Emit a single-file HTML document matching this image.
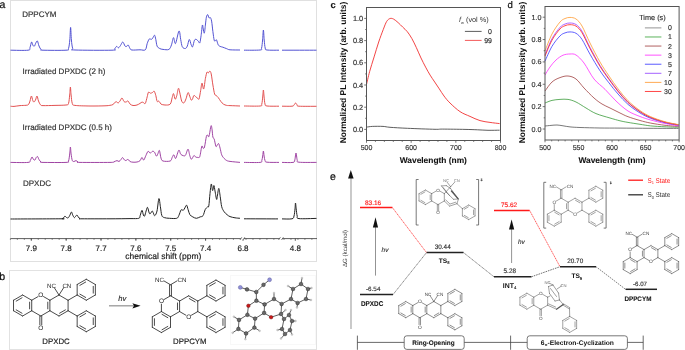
<!DOCTYPE html>
<html><head><meta charset="utf-8"><style>
html,body{margin:0;padding:0;background:#fff;width:685px;height:350px;overflow:hidden;}
svg{display:block;will-change:transform;text-rendering:geometricPrecision;font-family:"Liberation Sans", sans-serif;}
</style></head><body>
<svg width="685" height="350" viewBox="0 0 685 350" font-family='"Liberation Sans", sans-serif'>
<rect width="685" height="350" fill="#fff"/>
<rect x="10.5" y="0.5" width="306" height="261" fill="none" stroke="#e0e0e0" stroke-width="1"/>
<text x="-0.5" y="8.1" font-size="10.5" fill="#111" stroke="#111" stroke-width="0.23" font-weight="normal" text-anchor="start" font-style="normal" >a</text>
<text x="22.2" y="17" font-size="8" fill="#333" stroke="#333" stroke-width="0.18" font-weight="normal" text-anchor="start" font-style="normal" >DPPCYM</text>
<text x="22.6" y="74" font-size="8" fill="#333" stroke="#333" stroke-width="0.18" font-weight="normal" text-anchor="start" font-style="normal" >Irradiated DPXDC (2 h)</text>
<text x="22.6" y="130.4" font-size="8" fill="#333" stroke="#333" stroke-width="0.18" font-weight="normal" text-anchor="start" font-style="normal" >Irradiated DPXDC (0.5 h)</text>
<text x="23" y="186.4" font-size="8" fill="#333" stroke="#333" stroke-width="0.18" font-weight="normal" text-anchor="start" font-style="normal" >DPXDC</text>
<path d="M10.5,50.2 C13.42,50.2 24.75,50.65 28,50.2 C31.25,49.75 29.4,48.87 30,47.5 C30.6,46.13 31.1,42.33 31.6,42 C32.1,41.67 32.52,44.83 33,45.5 C33.48,46.17 34.03,46.42 34.5,46 C34.97,45.58 35.32,43.83 35.8,43 C36.28,42.17 36.87,40.5 37.4,41 C37.93,41.5 38.4,44.58 39,46 C39.6,47.42 40.33,48.8 41,49.5 C41.67,50.2 38.83,50.08 43,50.2 C47.17,50.32 61.75,50.48 66,50.2 C70.25,49.92 67.87,50.2 68.5,48.5 C69.13,46.8 69.45,43.52 69.8,40 C70.15,36.48 70.33,27.4 70.6,27.4 C70.87,27.4 71.05,36.48 71.4,40 C71.75,43.52 72.1,46.83 72.7,48.5 C73.3,50.17 68.45,49.72 75,50 C81.55,50.28 105.42,50.37 112,50.2 C118.58,50.03 113.73,49.63 114.5,49 C115.27,48.37 115.93,46.6 116.6,46.4 C117.27,46.2 117.85,47.95 118.5,47.8 C119.15,47.65 119.78,46.47 120.5,45.5 C121.22,44.53 122.05,41.92 122.8,42 C123.55,42.08 124.38,45.25 125,46 C125.62,46.75 125.97,46.67 126.5,46.5 C127.03,46.33 127.62,44.67 128.2,45 C128.78,45.33 129.37,47.67 130,48.5 C130.63,49.33 130.33,49.78 132,50 C133.67,50.22 137.78,49.83 140,49.8 C142.22,49.77 144.1,50.85 145.3,49.8 C146.5,48.75 146.55,45.28 147.2,43.5 C147.85,41.72 148.53,39.8 149.2,39.1 C149.87,38.4 150.65,39.4 151.2,39.3 C151.75,39.2 151.95,39.18 152.5,38.5 C153.05,37.82 153.95,35.03 154.5,35.2 C155.05,35.37 155.37,37.68 155.8,39.5 C156.23,41.32 156.45,44.6 157.1,46.1 C157.75,47.6 158.72,47.95 159.7,48.5 C160.68,49.05 161.47,49.25 163,49.4 C164.53,49.55 167.48,50.17 168.9,49.4 C170.32,48.63 170.73,46.77 171.5,44.8 C172.27,42.83 172.83,37.82 173.5,37.6 C174.17,37.38 174.58,44.6 175.5,43.5 C176.42,42.4 178.13,31.67 179,31 C179.87,30.33 180.15,36.87 180.7,39.5 C181.25,42.13 181.53,45.3 182.3,46.8 C183.07,48.3 184.47,48.62 185.3,48.5 C186.13,48.38 186.63,47.6 187.3,46.1 C187.97,44.6 188.65,39.72 189.3,39.5 C189.95,39.28 190.65,43.58 191.2,44.8 C191.75,46.02 192.05,47.57 192.6,46.8 C193.15,46.03 193.85,41.42 194.5,40.2 C195.15,38.98 195.83,39.28 196.5,39.5 C197.17,39.72 197.95,40.95 198.5,41.5 C199.05,42.05 199.37,43.78 199.8,42.8 C200.23,41.82 200.67,38.55 201.1,35.6 C201.53,32.65 202.02,26.03 202.4,25.1 C202.78,24.17 203.07,28.68 203.4,30 C203.73,31.32 204.05,34 204.4,33 C204.75,32 205.17,26.63 205.5,24 C205.83,21.37 206.03,18.77 206.4,17.2 C206.77,15.63 207.27,14.48 207.7,14.6 C208.13,14.72 208.57,17.42 209,17.9 C209.43,18.38 209.87,16.97 210.3,17.5 C210.73,18.03 211.17,18.75 211.6,21.1 C212.03,23.45 212.47,28.42 212.9,31.6 C213.33,34.78 213.8,38.67 214.2,40.2 C214.6,41.73 214.92,40.85 215.3,40.8 C215.68,40.75 216.02,39.23 216.5,39.9 C216.98,40.57 217.6,43.72 218.2,44.8 C218.8,45.88 219.33,46 220.1,46.4 C220.87,46.8 221.7,46.82 222.8,47.2 C223.9,47.58 225.5,48.27 226.7,48.7 C227.9,49.13 227.78,49.58 230,49.8 C232.22,50.02 238.33,49.97 240,50" fill="none" stroke="#4a4ad0" stroke-width="0.95" stroke-linejoin="round" />
<path d="M244,50.2 C246.67,50.17 257.07,50.37 260,50 C262.93,49.63 261.17,49.67 261.6,48 C262.03,46.33 262.3,43 262.6,40 C262.9,37 263.13,30 263.4,30 C263.67,30 263.9,37 264.2,40 C264.5,43 264.73,46.33 265.2,48 C265.67,49.67 264.7,49.63 267,50 C269.3,50.37 277,50.17 279,50.2" fill="none" stroke="#4a4ad0" stroke-width="0.95" stroke-linejoin="round" />
<path d="M282,50.2 C287.75,50.2 310.75,50.2 316.5,50.2" fill="none" stroke="#4a4ad0" stroke-width="0.95" stroke-linejoin="round" />
<path d="M10.5,106.2 C11.08,106.23 12.42,106.5 14,106.4 C15.58,106.3 18,105.78 20,105.6 C22,105.42 24.58,105.48 26,105.3 C27.42,105.12 27.83,105.22 28.5,104.5 C29.17,103.78 29.52,102.42 30,101 C30.48,99.58 30.93,96.08 31.4,96 C31.87,95.92 32.37,99.5 32.8,100.5 C33.23,101.5 33.55,102.08 34,102 C34.45,101.92 35,101 35.5,100 C36,99 36.5,95.83 37,96 C37.5,96.17 37.92,99.53 38.5,101 C39.08,102.47 39.75,104.03 40.5,104.8 C41.25,105.57 40.58,105.5 43,105.6 C45.42,105.7 51.17,105.5 55,105.4 C58.83,105.3 63.75,105.32 66,105 C68.25,104.68 67.88,105.17 68.5,103.5 C69.12,101.83 69.38,97.75 69.7,95 C70.02,92.25 70.17,87 70.4,87 C70.63,87 70.78,92.25 71.1,95 C71.42,97.75 71.65,101.77 72.3,103.5 C72.95,105.23 72.05,104.98 75,105.4 C77.95,105.82 85,105.93 90,106 C95,106.07 101.67,105.92 105,105.8 C108.33,105.68 108.67,105.52 110,105.3 C111.33,105.08 112,105.12 113,104.5 C114,103.88 115.17,101.85 116,101.6 C116.83,101.35 117.33,103.1 118,103 C118.67,102.9 119.33,101.83 120,101 C120.67,100.17 121.33,97.92 122,98 C122.67,98.08 123.33,100.83 124,101.5 C124.67,102.17 125.33,102.08 126,102 C126.67,101.92 127.33,100.67 128,101 C128.67,101.33 129.17,103.25 130,104 C130.83,104.75 131.83,105.33 133,105.5 C134.17,105.67 135.83,105.35 137,105 C138.17,104.65 139.17,103.88 140,103.4 C140.83,102.92 141.42,102.23 142,102.1 C142.58,101.97 142.95,102.38 143.5,102.6 C144.05,102.82 144.68,104.37 145.3,103.4 C145.92,102.43 146.67,98.67 147.2,96.8 C147.73,94.93 147.95,92.8 148.5,92.2 C149.05,91.6 149.83,93.15 150.5,93.2 C151.17,93.25 151.88,92.83 152.5,92.5 C153.12,92.17 153.65,90.7 154.2,91.2 C154.75,91.7 155.32,93.8 155.8,95.5 C156.28,97.2 156.67,100.48 157.1,101.4 C157.53,102.32 157.97,100.88 158.4,101 C158.83,101.12 159.27,101.58 159.7,102.1 C160.13,102.62 160.12,103.62 161,104.1 C161.88,104.58 163.47,105 165,105 C166.53,105 169,105.35 170.2,104.1 C171.4,102.85 171.65,99.25 172.2,97.5 C172.75,95.75 173,93.32 173.5,93.6 C174,93.88 174.65,98.88 175.2,99.2 C175.75,99.52 176.25,97.32 176.8,95.5 C177.35,93.68 177.95,88.52 178.5,88.3 C179.05,88.08 179.55,92.02 180.1,94.2 C180.65,96.38 181.15,99.97 181.8,101.4 C182.45,102.83 183.3,103.23 184,102.8 C184.7,102.37 185.33,100.5 186,98.8 C186.67,97.1 187.38,93.03 188,92.6 C188.62,92.17 189.17,94.95 189.7,96.2 C190.23,97.45 190.73,99.63 191.2,100.1 C191.67,100.57 192.05,99.77 192.5,99 C192.95,98.23 193.35,95.87 193.9,95.5 C194.45,95.13 195.15,96.32 195.8,96.8 C196.45,97.28 197.25,98.07 197.8,98.4 C198.35,98.73 198.62,100.15 199.1,98.8 C199.58,97.45 200.22,92.92 200.7,90.3 C201.18,87.68 201.5,83.32 202,83.1 C202.5,82.88 203.13,89.77 203.7,89 C204.27,88.23 204.85,81.32 205.4,78.5 C205.95,75.68 206.52,73.03 207,72.1 C207.48,71.17 207.82,73.05 208.3,72.9 C208.78,72.75 209.42,71.03 209.9,71.2 C210.38,71.37 210.7,71.6 211.2,73.9 C211.7,76.2 212.33,81.65 212.9,85 C213.47,88.35 214.05,92.25 214.6,94 C215.15,95.75 215.6,94.92 216.2,95.5 C216.8,96.08 217.43,96.52 218.2,97.5 C218.97,98.48 219.93,100.3 220.8,101.4 C221.67,102.5 222.42,103.43 223.4,104.1 C224.38,104.77 225.6,105.15 226.7,105.4 C227.8,105.65 227.78,105.5 230,105.6 C232.22,105.7 238.33,105.93 240,106" fill="none" stroke="#e04848" stroke-width="0.95" stroke-linejoin="round" />
<path d="M244,106 C246.67,106 257.03,106.33 260,106 C262.97,105.67 261.35,105.5 261.8,104 C262.25,102.5 262.43,99.33 262.7,97 C262.97,94.67 263.17,90 263.4,90 C263.63,90 263.83,94.67 264.1,97 C264.37,99.33 264.52,102.5 265,104 C265.48,105.5 264.67,105.63 267,106 C269.33,106.37 277,106.17 279,106.2" fill="none" stroke="#e04848" stroke-width="0.95" stroke-linejoin="round" />
<path d="M282,106.2 C283.67,106.2 290,106.4 292,106.2 C294,106 293.4,105.53 294,105 C294.6,104.47 295.07,103 295.6,103 C296.13,103 296.63,104.47 297.2,105 C297.77,105.53 295.78,105.98 299,106.2 C302.22,106.42 313.58,106.28 316.5,106.3" fill="none" stroke="#e04848" stroke-width="0.95" stroke-linejoin="round" />
<path d="M10.5,162.4 C13.42,162.4 24.67,162.8 28,162.4 C31.33,162 29.83,160.9 30.5,160 C31.17,159.1 31.5,157.08 32,157 C32.5,156.92 33,159 33.5,159.5 C34,160 34.55,160.33 35,160 C35.45,159.67 35.77,158.07 36.2,157.5 C36.63,156.93 37.13,156.27 37.6,156.6 C38.07,156.93 38.43,158.6 39,159.5 C39.57,160.4 40.33,161.52 41,162 C41.67,162.48 38.83,162.33 43,162.4 C47.17,162.47 61.75,162.63 66,162.4 C70.25,162.17 67.88,162.4 68.5,161 C69.12,159.6 69.38,156.33 69.7,154 C70.02,151.67 70.17,147 70.4,147 C70.63,147 70.78,151.75 71.1,154 C71.42,156.25 71.82,159.25 72.3,160.5 C72.78,161.75 73.38,161.48 74,161.5 C74.62,161.52 75.33,160.52 76,160.6 C76.67,160.68 77.33,161.7 78,162 C78.67,162.3 74.67,162.33 80,162.4 C85.33,162.47 104.33,162.5 110,162.4 C115.67,162.3 112.83,162.1 114,161.8 C115.17,161.5 116.17,160.65 117,160.6 C117.83,160.55 118.33,161.68 119,161.5 C119.67,161.32 120.4,160.15 121,159.5 C121.6,158.85 122.02,157.52 122.6,157.6 C123.18,157.68 123.93,159.52 124.5,160 C125.07,160.48 125.42,160.6 126,160.5 C126.58,160.4 127.33,159.23 128,159.4 C128.67,159.57 129.17,161.03 130,161.5 C130.83,161.97 131.83,162.12 133,162.2 C134.17,162.28 135.83,162.25 137,162 C138.17,161.75 139.17,161.47 140,160.7 C140.83,159.93 141.38,157.5 142,157.4 C142.62,157.3 143.05,160.42 143.7,160.1 C144.35,159.78 145.17,156.97 145.9,155.5 C146.63,154.03 147.38,151.7 148.1,151.3 C148.82,150.9 149.47,153.1 150.2,153.1 C150.93,153.1 151.78,151.45 152.5,151.3 C153.22,151.15 153.85,151.4 154.5,152.2 C155.15,153 155.85,155.8 156.4,156.1 C156.95,156.4 157.3,154.93 157.8,154 C158.3,153.07 158.87,149.82 159.4,150.5 C159.93,151.18 160.4,156.35 161,158.1 C161.6,159.85 161.47,160.52 163,161 C164.53,161.48 168.67,161.6 170.2,161 C171.73,160.4 171.58,158.43 172.2,157.4 C172.82,156.37 173.32,154.63 173.9,154.8 C174.48,154.97 174.88,159.17 175.7,158.4 C176.52,157.63 177.97,150.9 178.8,150.2 C179.63,149.5 179.93,153.28 180.7,154.2 C181.47,155.12 182.6,155.53 183.4,155.7 C184.2,155.87 184.73,156.28 185.5,155.2 C186.27,154.12 187.3,149.2 188,149.2 C188.7,149.2 189.17,153.53 189.7,155.2 C190.23,156.87 190.7,158.82 191.2,159.2 C191.7,159.58 192.22,158.12 192.7,157.5 C193.18,156.88 193.58,155.57 194.1,155.5 C194.62,155.43 195.18,156.78 195.8,157.1 C196.42,157.42 197.13,157.5 197.8,157.4 C198.47,157.3 199.13,158.35 199.8,156.5 C200.47,154.65 201.25,147.68 201.8,146.3 C202.35,144.92 202.65,148.08 203.1,148.2 C203.55,148.32 203.95,148.97 204.5,147 C205.05,145.03 205.87,138.38 206.4,136.4 C206.93,134.42 207.27,135.1 207.7,135.1 C208.13,135.1 208.45,137.93 209,136.4 C209.55,134.87 210.5,127.1 211,125.9 C211.5,124.7 211.68,127.33 212,129.2 C212.32,131.07 212.53,135.45 212.9,137.1 C213.27,138.75 213.7,137.57 214.2,139.1 C214.7,140.63 215.43,145.23 215.9,146.3 C216.37,147.37 216.55,145.95 217,145.5 C217.45,145.05 218.08,143.15 218.6,143.6 C219.12,144.05 219.58,146.33 220.1,148.2 C220.62,150.07 221.03,153.1 221.7,154.8 C222.37,156.5 223.27,157.45 224.1,158.4 C224.93,159.35 225.72,160 226.7,160.5 C227.68,161 227.78,161.08 230,161.4 C232.22,161.72 238.33,162.23 240,162.4" fill="none" stroke="#9a3a9e" stroke-width="0.95" stroke-linejoin="round" />
<path d="M244,162.4 C246.67,162.4 257.03,162.72 260,162.4 C262.97,162.08 261.35,161.57 261.8,160.5 C262.25,159.43 262.43,157.58 262.7,156 C262.97,154.42 263.17,151 263.4,151 C263.63,151 263.83,154.42 264.1,156 C264.37,157.58 264.52,159.47 265,160.5 C265.48,161.53 264.67,161.88 267,162.2 C269.33,162.52 277,162.37 279,162.4" fill="none" stroke="#9a3a9e" stroke-width="0.95" stroke-linejoin="round" />
<path d="M282,162.4 C283.83,162.4 290.87,162.8 293,162.4 C295.13,162 294.3,161.57 294.8,160 C295.3,158.43 295.6,153 296,153 C296.4,153 296.7,158.47 297.2,160 C297.7,161.53 295.78,161.8 299,162.2 C302.22,162.6 313.58,162.37 316.5,162.4" fill="none" stroke="#9a3a9e" stroke-width="0.95" stroke-linejoin="round" />
<path d="M10.5,219 C18.75,218.97 51.42,218.85 60,218.8 C68.58,218.75 61.37,218.9 62,218.7 C62.63,218.5 63.3,218.05 63.8,217.6 C64.3,217.15 64.58,216.03 65,216 C65.42,215.97 65.77,217.1 66.3,217.4 C66.83,217.7 67.58,218.2 68.2,217.8 C68.82,217.4 69.47,215.97 70,215 C70.53,214.03 70.93,211.97 71.4,212 C71.87,212.03 72.32,214.27 72.8,215.2 C73.28,216.13 73.8,217.43 74.3,217.6 C74.8,217.77 75.35,216.63 75.8,216.2 C76.25,215.77 76.58,214.87 77,215 C77.42,215.13 77.8,216.38 78.3,217 C78.8,217.62 79.38,218.4 80,218.7 C80.62,219 77,218.78 82,218.8 C87,218.82 102,218.83 110,218.8 C118,218.77 125.2,218.68 130,218.6 C134.8,218.52 137.1,218.83 138.8,218.3 C140.5,217.77 139.67,216.73 140.2,215.4 C140.73,214.07 141.47,210.35 142,210.3 C142.53,210.25 142.97,214.13 143.4,215.1 C143.83,216.07 144.15,216.78 144.6,216.1 C145.05,215.42 145.62,212.45 146.1,211 C146.58,209.55 146.97,207.03 147.5,207.4 C148.03,207.77 148.8,212.18 149.3,213.2 C149.8,214.22 150.02,213.87 150.5,213.5 C150.98,213.13 151.72,211.05 152.2,211 C152.68,210.95 152.97,212.42 153.4,213.2 C153.83,213.98 154.2,216.07 154.8,215.7 C155.4,215.33 156.32,213.85 157,211 C157.68,208.15 158.33,199.32 158.9,198.6 C159.47,197.88 159.92,203.9 160.4,206.7 C160.88,209.5 161.15,213.58 161.8,215.4 C162.45,217.22 163.03,217.12 164.3,217.6 C165.57,218.08 167.33,218.18 169.4,218.3 C171.47,218.42 175.12,218.78 176.7,218.3 C178.28,217.82 178.17,216.8 178.9,215.4 C179.63,214 180.37,210.75 181.1,209.9 C181.83,209.05 182.68,210.62 183.3,210.3 C183.92,209.98 184.25,208.85 184.8,208 C185.35,207.15 186.05,204.93 186.6,205.2 C187.15,205.47 187.55,208.02 188.1,209.6 C188.65,211.18 189.12,213.48 189.9,214.7 C190.68,215.92 191.72,216.3 192.8,216.9 C193.88,217.5 195.18,218.3 196.4,218.3 C197.62,218.3 199,217.33 200.1,216.9 C201.2,216.47 202.15,216.92 203,215.7 C203.85,214.48 204.47,211.05 205.2,209.6 C205.93,208.15 206.8,207.62 207.4,207 C208,206.38 208.37,208.15 208.8,205.9 C209.23,203.65 209.58,197.15 210,193.5 C210.42,189.85 210.87,184.48 211.3,184 C211.73,183.52 212.17,190.35 212.6,190.6 C213.03,190.85 213.5,185.43 213.9,185.5 C214.3,185.57 214.55,188.68 215,191 C215.45,193.32 216.18,198.73 216.6,199.4 C217.02,200.07 217.13,196.83 217.5,195 C217.87,193.17 218.35,188.17 218.8,188.4 C219.25,188.63 219.72,193.35 220.2,196.4 C220.68,199.45 221.03,204.13 221.7,206.7 C222.37,209.27 223.3,210.47 224.2,211.8 C225.1,213.13 226.13,213.9 227.1,214.7 C228.07,215.5 228.68,216.08 230,216.6 C231.32,217.12 233.33,217.52 235,217.8 C236.67,218.08 239.17,218.22 240,218.3" fill="none" stroke="#222" stroke-width="1.0" stroke-linejoin="round" />
<path d="M244,218.8 C249.67,218.82 272.33,218.88 278,218.9" fill="none" stroke="#222" stroke-width="1.0" stroke-linejoin="round" />
<path d="M282,218.9 C283.67,218.88 290,219.28 292,218.8 C294,218.32 293.5,217.63 294,216 C294.5,214.37 294.75,211.17 295,209 C295.25,206.83 295.3,203 295.5,203 C295.7,203 295.92,206.83 296.2,209 C296.48,211.17 296.73,214.4 297.2,216 C297.67,217.6 295.78,218.2 299,218.6 C302.22,219 313.58,218.43 316.5,218.4" fill="none" stroke="#222" stroke-width="1.0" stroke-linejoin="round" />
<line x1="10.5" y1="238.6" x2="317" y2="238.6" stroke="#333" stroke-width="0.8" />
<line x1="31.3" y1="238.6" x2="31.3" y2="240.8" stroke="#333" stroke-width="0.8" />
<text x="31.3" y="251" font-size="8" fill="#222" stroke="#222" stroke-width="0.18" font-weight="normal" text-anchor="middle" font-style="normal" >7.9</text>
<line x1="66.16" y1="238.6" x2="66.16" y2="240.8" stroke="#333" stroke-width="0.8" />
<text x="66.16" y="251" font-size="8" fill="#222" stroke="#222" stroke-width="0.18" font-weight="normal" text-anchor="middle" font-style="normal" >7.8</text>
<line x1="101.02" y1="238.6" x2="101.02" y2="240.8" stroke="#333" stroke-width="0.8" />
<text x="101.02" y="251" font-size="8" fill="#222" stroke="#222" stroke-width="0.18" font-weight="normal" text-anchor="middle" font-style="normal" >7.7</text>
<line x1="135.88" y1="238.6" x2="135.88" y2="240.8" stroke="#333" stroke-width="0.8" />
<text x="135.88" y="251" font-size="8" fill="#222" stroke="#222" stroke-width="0.18" font-weight="normal" text-anchor="middle" font-style="normal" >7.6</text>
<line x1="170.74" y1="238.6" x2="170.74" y2="240.8" stroke="#333" stroke-width="0.8" />
<text x="170.74" y="251" font-size="8" fill="#222" stroke="#222" stroke-width="0.18" font-weight="normal" text-anchor="middle" font-style="normal" >7.5</text>
<line x1="205.6" y1="238.6" x2="205.6" y2="240.8" stroke="#333" stroke-width="0.8" />
<text x="205.6" y="251" font-size="8" fill="#222" stroke="#222" stroke-width="0.18" font-weight="normal" text-anchor="middle" font-style="normal" >7.4</text>
<line x1="10.38" y1="238.6" x2="10.38" y2="239.8" stroke="#444" stroke-width="0.7" />
<line x1="17.35" y1="238.6" x2="17.35" y2="239.8" stroke="#444" stroke-width="0.7" />
<line x1="24.32" y1="238.6" x2="24.32" y2="239.8" stroke="#444" stroke-width="0.7" />
<line x1="31.29" y1="238.6" x2="31.29" y2="239.8" stroke="#444" stroke-width="0.7" />
<line x1="38.26" y1="238.6" x2="38.26" y2="239.8" stroke="#444" stroke-width="0.7" />
<line x1="45.23" y1="238.6" x2="45.23" y2="239.8" stroke="#444" stroke-width="0.7" />
<line x1="52.2" y1="238.6" x2="52.2" y2="239.8" stroke="#444" stroke-width="0.7" />
<line x1="59.17" y1="238.6" x2="59.17" y2="239.8" stroke="#444" stroke-width="0.7" />
<line x1="66.14" y1="238.6" x2="66.14" y2="239.8" stroke="#444" stroke-width="0.7" />
<line x1="73.11" y1="238.6" x2="73.11" y2="239.8" stroke="#444" stroke-width="0.7" />
<line x1="80.08" y1="238.6" x2="80.08" y2="239.8" stroke="#444" stroke-width="0.7" />
<line x1="87.05" y1="238.6" x2="87.05" y2="239.8" stroke="#444" stroke-width="0.7" />
<line x1="94.02" y1="238.6" x2="94.02" y2="239.8" stroke="#444" stroke-width="0.7" />
<line x1="100.99" y1="238.6" x2="100.99" y2="239.8" stroke="#444" stroke-width="0.7" />
<line x1="107.96" y1="238.6" x2="107.96" y2="239.8" stroke="#444" stroke-width="0.7" />
<line x1="114.93" y1="238.6" x2="114.93" y2="239.8" stroke="#444" stroke-width="0.7" />
<line x1="121.9" y1="238.6" x2="121.9" y2="239.8" stroke="#444" stroke-width="0.7" />
<line x1="128.87" y1="238.6" x2="128.87" y2="239.8" stroke="#444" stroke-width="0.7" />
<line x1="135.84" y1="238.6" x2="135.84" y2="239.8" stroke="#444" stroke-width="0.7" />
<line x1="142.81" y1="238.6" x2="142.81" y2="239.8" stroke="#444" stroke-width="0.7" />
<line x1="149.78" y1="238.6" x2="149.78" y2="239.8" stroke="#444" stroke-width="0.7" />
<line x1="156.75" y1="238.6" x2="156.75" y2="239.8" stroke="#444" stroke-width="0.7" />
<line x1="163.72" y1="238.6" x2="163.72" y2="239.8" stroke="#444" stroke-width="0.7" />
<line x1="170.69" y1="238.6" x2="170.69" y2="239.8" stroke="#444" stroke-width="0.7" />
<line x1="177.66" y1="238.6" x2="177.66" y2="239.8" stroke="#444" stroke-width="0.7" />
<line x1="184.63" y1="238.6" x2="184.63" y2="239.8" stroke="#444" stroke-width="0.7" />
<line x1="191.6" y1="238.6" x2="191.6" y2="239.8" stroke="#444" stroke-width="0.7" />
<line x1="198.57" y1="238.6" x2="198.57" y2="239.8" stroke="#444" stroke-width="0.7" />
<line x1="205.54" y1="238.6" x2="205.54" y2="239.8" stroke="#444" stroke-width="0.7" />
<line x1="212.51" y1="238.6" x2="212.51" y2="239.8" stroke="#444" stroke-width="0.7" />
<line x1="219.48" y1="238.6" x2="219.48" y2="239.8" stroke="#444" stroke-width="0.7" />
<line x1="226.45" y1="238.6" x2="226.45" y2="239.8" stroke="#444" stroke-width="0.7" />
<line x1="233.42" y1="238.6" x2="233.42" y2="239.8" stroke="#444" stroke-width="0.7" />
<line x1="246" y1="238.6" x2="246" y2="239.8" stroke="#444" stroke-width="0.7" />
<line x1="252.97" y1="238.6" x2="252.97" y2="239.8" stroke="#444" stroke-width="0.7" />
<line x1="259.94" y1="238.6" x2="259.94" y2="239.8" stroke="#444" stroke-width="0.7" />
<line x1="266.91" y1="238.6" x2="266.91" y2="239.8" stroke="#444" stroke-width="0.7" />
<line x1="273.88" y1="238.6" x2="273.88" y2="239.8" stroke="#444" stroke-width="0.7" />
<line x1="284" y1="238.6" x2="284" y2="239.8" stroke="#444" stroke-width="0.7" />
<line x1="290.97" y1="238.6" x2="290.97" y2="239.8" stroke="#444" stroke-width="0.7" />
<line x1="297.94" y1="238.6" x2="297.94" y2="239.8" stroke="#444" stroke-width="0.7" />
<line x1="304.91" y1="238.6" x2="304.91" y2="239.8" stroke="#444" stroke-width="0.7" />
<line x1="311.88" y1="238.6" x2="311.88" y2="239.8" stroke="#444" stroke-width="0.7" />
<line x1="243" y1="238.6" x2="243" y2="240.8" stroke="#333" stroke-width="0.8" />
<text x="243" y="251" font-size="8" fill="#222" stroke="#222" stroke-width="0.18" font-weight="normal" text-anchor="middle" font-style="normal" >6.8</text>
<line x1="295.3" y1="238.6" x2="295.3" y2="240.8" stroke="#333" stroke-width="0.8" />
<text x="295.3" y="251" font-size="8" fill="#222" stroke="#222" stroke-width="0.18" font-weight="normal" text-anchor="middle" font-style="normal" >4.8</text>
<rect x="240.8" y="237.6" width="3.2" height="2" fill="#fff"/>
<line x1="240" y1="239.9" x2="241.8" y2="237.3" stroke="#333" stroke-width="0.7" />
<line x1="243" y1="239.9" x2="244.8" y2="237.3" stroke="#333" stroke-width="0.7" />
<rect x="279.4" y="237.6" width="3.2" height="2" fill="#fff"/>
<line x1="278.6" y1="239.9" x2="280.4" y2="237.3" stroke="#333" stroke-width="0.7" />
<line x1="281.6" y1="239.9" x2="283.4" y2="237.3" stroke="#333" stroke-width="0.7" />
<text x="163.3" y="258.6" font-size="8.5" fill="#222" stroke="#222" stroke-width="0.19" font-weight="normal" text-anchor="middle" font-style="normal" >chemical shift (ppm)</text>
<rect x="9.5" y="270.5" width="307" height="79" fill="none" stroke="#e2e2e2" stroke-width="1"/>
<text x="-0.8" y="279.6" font-size="10.5" fill="#111" stroke="#111" stroke-width="0.23" font-weight="normal" text-anchor="start" font-style="normal" >b</text>
<line x1="22.61" y1="295" x2="31.71" y2="300.25" stroke="#2a2a2a" stroke-width="0.85" stroke-linecap="round"/>
<line x1="31.71" y1="300.25" x2="31.71" y2="310.75" stroke="#2a2a2a" stroke-width="0.85" stroke-linecap="round"/>
<line x1="31.71" y1="310.75" x2="22.61" y2="316" stroke="#2a2a2a" stroke-width="0.85" stroke-linecap="round"/>
<line x1="22.61" y1="316" x2="13.52" y2="310.75" stroke="#2a2a2a" stroke-width="0.85" stroke-linecap="round"/>
<line x1="13.52" y1="310.75" x2="13.52" y2="300.25" stroke="#2a2a2a" stroke-width="0.85" stroke-linecap="round"/>
<line x1="13.52" y1="300.25" x2="22.61" y2="295" stroke="#2a2a2a" stroke-width="0.85" stroke-linecap="round"/>
<line x1="16.21" y1="301.12" x2="22.03" y2="297.76" stroke="#2a2a2a" stroke-width="0.85" stroke-linecap="round"/>
<line x1="29.61" y1="302.14" x2="29.61" y2="308.86" stroke="#2a2a2a" stroke-width="0.85" stroke-linecap="round"/>
<line x1="22.03" y1="313.24" x2="16.21" y2="309.88" stroke="#2a2a2a" stroke-width="0.85" stroke-linecap="round"/>
<line x1="40.8" y1="295" x2="49.89" y2="300.25" stroke="#2a2a2a" stroke-width="0.85" stroke-linecap="round"/>
<line x1="49.89" y1="300.25" x2="49.89" y2="310.75" stroke="#2a2a2a" stroke-width="0.85" stroke-linecap="round"/>
<line x1="49.89" y1="310.75" x2="40.8" y2="316" stroke="#2a2a2a" stroke-width="0.85" stroke-linecap="round"/>
<line x1="40.8" y1="316" x2="31.71" y2="310.75" stroke="#2a2a2a" stroke-width="0.85" stroke-linecap="round"/>
<line x1="31.71" y1="300.25" x2="40.8" y2="295" stroke="#2a2a2a" stroke-width="0.85" stroke-linecap="round"/>
<line x1="47.79" y1="302.14" x2="47.79" y2="308.86" stroke="#2a2a2a" stroke-width="0.85" stroke-linecap="round"/>
<line x1="58.99" y1="295" x2="68.08" y2="300.25" stroke="#2a2a2a" stroke-width="0.85" stroke-linecap="round"/>
<line x1="68.08" y1="300.25" x2="68.08" y2="310.75" stroke="#2a2a2a" stroke-width="0.85" stroke-linecap="round"/>
<line x1="68.08" y1="310.75" x2="58.99" y2="316" stroke="#2a2a2a" stroke-width="0.85" stroke-linecap="round"/>
<line x1="58.99" y1="316" x2="49.89" y2="310.75" stroke="#2a2a2a" stroke-width="0.85" stroke-linecap="round"/>
<line x1="49.89" y1="300.25" x2="58.99" y2="295" stroke="#2a2a2a" stroke-width="0.85" stroke-linecap="round"/>
<line x1="65.39" y1="309.88" x2="59.57" y2="313.24" stroke="#2a2a2a" stroke-width="0.85" stroke-linecap="round"/>
<line x1="39.85" y1="316" x2="39.85" y2="324.93" stroke="#2a2a2a" stroke-width="0.85" stroke-linecap="round"/>
<line x1="41.74" y1="316" x2="41.74" y2="324.93" stroke="#2a2a2a" stroke-width="0.85" stroke-linecap="round"/>
<line x1="86.27" y1="279.25" x2="95.36" y2="284.5" stroke="#2a2a2a" stroke-width="0.85" stroke-linecap="round"/>
<line x1="95.36" y1="284.5" x2="95.36" y2="295" stroke="#2a2a2a" stroke-width="0.85" stroke-linecap="round"/>
<line x1="95.36" y1="295" x2="86.27" y2="300.25" stroke="#2a2a2a" stroke-width="0.85" stroke-linecap="round"/>
<line x1="86.27" y1="300.25" x2="77.17" y2="295" stroke="#2a2a2a" stroke-width="0.85" stroke-linecap="round"/>
<line x1="77.17" y1="295" x2="77.17" y2="284.5" stroke="#2a2a2a" stroke-width="0.85" stroke-linecap="round"/>
<line x1="77.17" y1="284.5" x2="86.27" y2="279.25" stroke="#2a2a2a" stroke-width="0.85" stroke-linecap="round"/>
<line x1="79.86" y1="285.37" x2="85.68" y2="282.01" stroke="#2a2a2a" stroke-width="0.85" stroke-linecap="round"/>
<line x1="93.26" y1="286.39" x2="93.26" y2="293.11" stroke="#2a2a2a" stroke-width="0.85" stroke-linecap="round"/>
<line x1="85.68" y1="297.49" x2="79.86" y2="294.13" stroke="#2a2a2a" stroke-width="0.85" stroke-linecap="round"/>
<line x1="86.27" y1="310.75" x2="95.36" y2="316" stroke="#2a2a2a" stroke-width="0.85" stroke-linecap="round"/>
<line x1="95.36" y1="316" x2="95.36" y2="326.5" stroke="#2a2a2a" stroke-width="0.85" stroke-linecap="round"/>
<line x1="95.36" y1="326.5" x2="86.27" y2="331.75" stroke="#2a2a2a" stroke-width="0.85" stroke-linecap="round"/>
<line x1="86.27" y1="331.75" x2="77.17" y2="326.5" stroke="#2a2a2a" stroke-width="0.85" stroke-linecap="round"/>
<line x1="77.17" y1="326.5" x2="77.17" y2="316" stroke="#2a2a2a" stroke-width="0.85" stroke-linecap="round"/>
<line x1="77.17" y1="316" x2="86.27" y2="310.75" stroke="#2a2a2a" stroke-width="0.85" stroke-linecap="round"/>
<line x1="79.86" y1="316.87" x2="85.68" y2="313.51" stroke="#2a2a2a" stroke-width="0.85" stroke-linecap="round"/>
<line x1="93.26" y1="317.89" x2="93.26" y2="324.61" stroke="#2a2a2a" stroke-width="0.85" stroke-linecap="round"/>
<line x1="85.68" y1="328.99" x2="79.86" y2="325.63" stroke="#2a2a2a" stroke-width="0.85" stroke-linecap="round"/>
<line x1="68.08" y1="300.25" x2="77.17" y2="295" stroke="#2a2a2a" stroke-width="0.85" stroke-linecap="round"/>
<line x1="68.08" y1="310.75" x2="77.17" y2="316" stroke="#2a2a2a" stroke-width="0.85" stroke-linecap="round"/>
<line x1="58.99" y1="295" x2="54.26" y2="287.65" stroke="#2a2a2a" stroke-width="0.85" stroke-linecap="round"/>
<line x1="58.99" y1="295" x2="63.71" y2="287.65" stroke="#2a2a2a" stroke-width="0.85" stroke-linecap="round"/>
<circle cx="40.8" cy="328.07" r="2.73" fill="#fff"/>
<text x="40.8" y="330.42" font-size="6.51" fill="#2a2a2a" text-anchor="middle">O</text>
<circle cx="40.8" cy="295" r="2.73" fill="#fff"/>
<text x="40.8" y="297.34" font-size="6.51" fill="#2a2a2a" text-anchor="middle">O</text>
<text x="51.43" y="288.49" font-size="6.2" fill="#2a2a2a" text-anchor="middle">NC</text>
<text x="66.86" y="288.49" font-size="6.2" fill="#2a2a2a" text-anchor="middle">CN</text>
<text x="56" y="343.8" font-size="7.8" fill="#222" stroke="#222" stroke-width="0.17" font-weight="normal" text-anchor="middle" font-style="normal" >DPXDC</text>
<line x1="109" y1="305.8" x2="134" y2="305.8" stroke="#999" stroke-width="1.3" />
<path d="M132.4,303.2 L140.6,305.8 L132.4,308.6 L134,305.8 Z" fill="#111"/>
<text x="118.2" y="300.7" font-size="7.6" fill="#333" stroke="#333" stroke-width="0.17" font-weight="normal" text-anchor="start" font-style="italic" >hv</text>
<line x1="161.41" y1="311.55" x2="170.5" y2="316.8" stroke="#2a2a2a" stroke-width="0.85" stroke-linecap="round"/>
<line x1="170.5" y1="316.8" x2="170.5" y2="327.3" stroke="#2a2a2a" stroke-width="0.85" stroke-linecap="round"/>
<line x1="170.5" y1="327.3" x2="161.41" y2="332.55" stroke="#2a2a2a" stroke-width="0.85" stroke-linecap="round"/>
<line x1="161.41" y1="332.55" x2="152.31" y2="327.3" stroke="#2a2a2a" stroke-width="0.85" stroke-linecap="round"/>
<line x1="152.31" y1="327.3" x2="152.31" y2="316.8" stroke="#2a2a2a" stroke-width="0.85" stroke-linecap="round"/>
<line x1="152.31" y1="316.8" x2="161.41" y2="311.55" stroke="#2a2a2a" stroke-width="0.85" stroke-linecap="round"/>
<line x1="161.99" y1="314.31" x2="167.81" y2="317.67" stroke="#2a2a2a" stroke-width="0.85" stroke-linecap="round"/>
<line x1="167.81" y1="326.43" x2="161.99" y2="329.79" stroke="#2a2a2a" stroke-width="0.85" stroke-linecap="round"/>
<line x1="154.41" y1="325.41" x2="154.41" y2="318.69" stroke="#2a2a2a" stroke-width="0.85" stroke-linecap="round"/>
<line x1="170.5" y1="295.8" x2="179.59" y2="301.05" stroke="#2a2a2a" stroke-width="0.85" stroke-linecap="round"/>
<line x1="179.59" y1="301.05" x2="179.59" y2="311.55" stroke="#2a2a2a" stroke-width="0.85" stroke-linecap="round"/>
<line x1="179.59" y1="311.55" x2="170.5" y2="316.8" stroke="#2a2a2a" stroke-width="0.85" stroke-linecap="round"/>
<line x1="161.41" y1="311.55" x2="161.41" y2="301.05" stroke="#2a2a2a" stroke-width="0.85" stroke-linecap="round"/>
<line x1="161.41" y1="301.05" x2="170.5" y2="295.8" stroke="#2a2a2a" stroke-width="0.85" stroke-linecap="round"/>
<line x1="177.49" y1="302.94" x2="177.49" y2="309.66" stroke="#2a2a2a" stroke-width="0.85" stroke-linecap="round"/>
<line x1="188.69" y1="295.8" x2="197.78" y2="301.05" stroke="#2a2a2a" stroke-width="0.85" stroke-linecap="round"/>
<line x1="197.78" y1="301.05" x2="197.78" y2="311.55" stroke="#2a2a2a" stroke-width="0.85" stroke-linecap="round"/>
<line x1="197.78" y1="311.55" x2="188.69" y2="316.8" stroke="#2a2a2a" stroke-width="0.85" stroke-linecap="round"/>
<line x1="188.69" y1="316.8" x2="179.59" y2="311.55" stroke="#2a2a2a" stroke-width="0.85" stroke-linecap="round"/>
<line x1="179.59" y1="301.05" x2="188.69" y2="295.8" stroke="#2a2a2a" stroke-width="0.85" stroke-linecap="round"/>
<line x1="189.27" y1="298.56" x2="195.09" y2="301.92" stroke="#2a2a2a" stroke-width="0.85" stroke-linecap="round"/>
<line x1="171.44" y1="295.8" x2="171.44" y2="284.78" stroke="#2a2a2a" stroke-width="0.85" stroke-linecap="round"/>
<line x1="169.56" y1="295.8" x2="169.56" y2="284.78" stroke="#2a2a2a" stroke-width="0.85" stroke-linecap="round"/>
<line x1="215.97" y1="280.05" x2="225.06" y2="285.3" stroke="#2a2a2a" stroke-width="0.85" stroke-linecap="round"/>
<line x1="225.06" y1="285.3" x2="225.06" y2="295.8" stroke="#2a2a2a" stroke-width="0.85" stroke-linecap="round"/>
<line x1="225.06" y1="295.8" x2="215.97" y2="301.05" stroke="#2a2a2a" stroke-width="0.85" stroke-linecap="round"/>
<line x1="215.97" y1="301.05" x2="206.87" y2="295.8" stroke="#2a2a2a" stroke-width="0.85" stroke-linecap="round"/>
<line x1="206.87" y1="295.8" x2="206.87" y2="285.3" stroke="#2a2a2a" stroke-width="0.85" stroke-linecap="round"/>
<line x1="206.87" y1="285.3" x2="215.97" y2="280.05" stroke="#2a2a2a" stroke-width="0.85" stroke-linecap="round"/>
<line x1="209.56" y1="286.17" x2="215.38" y2="282.81" stroke="#2a2a2a" stroke-width="0.85" stroke-linecap="round"/>
<line x1="222.96" y1="287.19" x2="222.96" y2="293.91" stroke="#2a2a2a" stroke-width="0.85" stroke-linecap="round"/>
<line x1="215.38" y1="298.29" x2="209.56" y2="294.93" stroke="#2a2a2a" stroke-width="0.85" stroke-linecap="round"/>
<line x1="215.97" y1="311.55" x2="225.06" y2="316.8" stroke="#2a2a2a" stroke-width="0.85" stroke-linecap="round"/>
<line x1="225.06" y1="316.8" x2="225.06" y2="327.3" stroke="#2a2a2a" stroke-width="0.85" stroke-linecap="round"/>
<line x1="225.06" y1="327.3" x2="215.97" y2="332.55" stroke="#2a2a2a" stroke-width="0.85" stroke-linecap="round"/>
<line x1="215.97" y1="332.55" x2="206.87" y2="327.3" stroke="#2a2a2a" stroke-width="0.85" stroke-linecap="round"/>
<line x1="206.87" y1="327.3" x2="206.87" y2="316.8" stroke="#2a2a2a" stroke-width="0.85" stroke-linecap="round"/>
<line x1="206.87" y1="316.8" x2="215.97" y2="311.55" stroke="#2a2a2a" stroke-width="0.85" stroke-linecap="round"/>
<line x1="209.56" y1="317.67" x2="215.38" y2="314.31" stroke="#2a2a2a" stroke-width="0.85" stroke-linecap="round"/>
<line x1="222.96" y1="318.69" x2="222.96" y2="325.41" stroke="#2a2a2a" stroke-width="0.85" stroke-linecap="round"/>
<line x1="215.38" y1="329.79" x2="209.56" y2="326.43" stroke="#2a2a2a" stroke-width="0.85" stroke-linecap="round"/>
<line x1="197.78" y1="301.05" x2="206.87" y2="295.8" stroke="#2a2a2a" stroke-width="0.85" stroke-linecap="round"/>
<line x1="197.78" y1="311.55" x2="206.87" y2="316.8" stroke="#2a2a2a" stroke-width="0.85" stroke-linecap="round"/>
<line x1="170.5" y1="284.78" x2="163.99" y2="280.89" stroke="#2a2a2a" stroke-width="0.85" stroke-linecap="round"/>
<line x1="170.5" y1="284.78" x2="177.01" y2="280.89" stroke="#2a2a2a" stroke-width="0.85" stroke-linecap="round"/>
<circle cx="161.41" cy="301.05" r="2.73" fill="#fff"/>
<text x="161.41" y="303.39" font-size="6.51" fill="#2a2a2a" text-anchor="middle">O</text>
<circle cx="188.69" cy="316.8" r="2.73" fill="#fff"/>
<text x="188.69" y="319.14" font-size="6.51" fill="#2a2a2a" text-anchor="middle">O</text>
<text x="159.47" y="281.94" font-size="6.2" fill="#2a2a2a" text-anchor="middle">NC</text>
<text x="182.05" y="281.94" font-size="6.2" fill="#2a2a2a" text-anchor="middle">CN</text>
<text x="189.8" y="344" font-size="7.8" fill="#222" stroke="#222" stroke-width="0.17" font-weight="normal" text-anchor="middle" font-style="normal" >DPPCYM</text>
<rect x="230.5" y="275.5" width="85" height="69" fill="none" stroke="#f8f8f8" stroke-width="1"/>
<line x1="240.3" y1="287.4" x2="247" y2="289.4" stroke="#606060" stroke-width="1.0" />
<line x1="247" y1="289.4" x2="256.3" y2="292" stroke="#606060" stroke-width="1.0" />
<line x1="256.3" y1="292" x2="263.5" y2="284.8" stroke="#606060" stroke-width="1.0" />
<line x1="263.5" y1="284.8" x2="269.6" y2="279.7" stroke="#606060" stroke-width="1.0" />
<line x1="256.3" y1="292" x2="256.4" y2="300.7" stroke="#606060" stroke-width="1.0" />
<line x1="256.4" y1="300.7" x2="248.4" y2="305.8" stroke="#606060" stroke-width="1.0" />
<line x1="248.4" y1="305.8" x2="247.4" y2="314.8" stroke="#606060" stroke-width="1.0" />
<line x1="247.4" y1="314.8" x2="239" y2="319.9" stroke="#606060" stroke-width="1.0" />
<line x1="239" y1="319.9" x2="238.4" y2="328.9" stroke="#606060" stroke-width="1.0" />
<line x1="238.4" y1="328.9" x2="246.1" y2="333.4" stroke="#606060" stroke-width="1.0" />
<line x1="246.1" y1="333.4" x2="254.4" y2="327.6" stroke="#606060" stroke-width="1.0" />
<line x1="254.4" y1="327.6" x2="255.1" y2="318.6" stroke="#606060" stroke-width="1.0" />
<line x1="255.1" y1="318.6" x2="247.4" y2="314.8" stroke="#606060" stroke-width="1.0" />
<line x1="255.1" y1="318.6" x2="264.1" y2="312.9" stroke="#606060" stroke-width="1.0" />
<line x1="256.4" y1="300.7" x2="264.6" y2="304.4" stroke="#606060" stroke-width="1.0" />
<line x1="264.6" y1="304.4" x2="264.1" y2="312.9" stroke="#606060" stroke-width="1.0" />
<line x1="264.1" y1="312.9" x2="271.1" y2="317.2" stroke="#606060" stroke-width="1.0" />
<line x1="271.1" y1="317.2" x2="281" y2="314" stroke="#606060" stroke-width="1.0" />
<line x1="264.6" y1="304.4" x2="274" y2="299" stroke="#606060" stroke-width="1.0" />
<line x1="274" y1="299" x2="281.6" y2="304" stroke="#606060" stroke-width="1.0" />
<line x1="281.6" y1="304" x2="281" y2="314" stroke="#606060" stroke-width="1.0" />
<line x1="281.6" y1="304" x2="291" y2="299" stroke="#606060" stroke-width="1.0" />
<line x1="291" y1="299" x2="293" y2="289" stroke="#606060" stroke-width="1.0" />
<line x1="293" y1="289" x2="301" y2="284" stroke="#606060" stroke-width="1.0" />
<line x1="301" y1="284" x2="308" y2="289" stroke="#606060" stroke-width="1.0" />
<line x1="308" y1="289" x2="306" y2="299" stroke="#606060" stroke-width="1.0" />
<line x1="306" y1="299" x2="297.6" y2="303" stroke="#606060" stroke-width="1.0" />
<line x1="297.6" y1="303" x2="291" y2="299" stroke="#606060" stroke-width="1.0" />
<line x1="281" y1="314" x2="284" y2="319" stroke="#606060" stroke-width="1.0" />
<line x1="284" y1="319" x2="282" y2="329" stroke="#606060" stroke-width="1.0" />
<line x1="282" y1="329" x2="285" y2="334" stroke="#606060" stroke-width="1.0" />
<line x1="285" y1="334" x2="290" y2="330" stroke="#606060" stroke-width="1.0" />
<line x1="290" y1="330" x2="292" y2="321" stroke="#606060" stroke-width="1.0" />
<line x1="292" y1="321" x2="289" y2="315" stroke="#606060" stroke-width="1.0" />
<line x1="289" y1="315" x2="284" y2="319" stroke="#606060" stroke-width="1.0" />
<line x1="274" y1="299" x2="274" y2="293" stroke="#606060" stroke-width="1.0" />
<line x1="239" y1="319.9" x2="233.9" y2="316.7" stroke="#606060" stroke-width="1.0" />
<line x1="238.4" y1="328.9" x2="232.6" y2="332.8" stroke="#606060" stroke-width="1.0" />
<line x1="246.1" y1="333.4" x2="245.4" y2="339.2" stroke="#606060" stroke-width="1.0" />
<line x1="254.4" y1="327.6" x2="259.6" y2="330.8" stroke="#606060" stroke-width="1.0" />
<line x1="301" y1="284" x2="302" y2="278" stroke="#606060" stroke-width="1.0" />
<line x1="308" y1="289" x2="311.5" y2="288" stroke="#606060" stroke-width="1.0" />
<line x1="306" y1="299" x2="311" y2="300" stroke="#606060" stroke-width="1.0" />
<line x1="297.6" y1="303" x2="297" y2="307.5" stroke="#606060" stroke-width="1.0" />
<line x1="293" y1="289" x2="288" y2="286" stroke="#606060" stroke-width="1.0" />
<line x1="285" y1="334" x2="281" y2="338.5" stroke="#606060" stroke-width="1.0" />
<line x1="282" y1="329" x2="277.5" y2="330" stroke="#606060" stroke-width="1.0" />
<line x1="290" y1="330" x2="292" y2="334.5" stroke="#606060" stroke-width="1.0" />
<line x1="292" y1="321" x2="295.5" y2="321" stroke="#606060" stroke-width="1.0" />
<line x1="289" y1="315" x2="291" y2="310" stroke="#606060" stroke-width="1.0" />
<line x1="281" y1="314" x2="285.5" y2="310" stroke="#606060" stroke-width="1.0" />
<circle cx="274" cy="293" r="0.9" fill="#d4d4d4" stroke="#999" stroke-width="0.35"/>
<circle cx="233.9" cy="316.7" r="0.9" fill="#d4d4d4" stroke="#999" stroke-width="0.35"/>
<circle cx="232.6" cy="332.8" r="0.9" fill="#d4d4d4" stroke="#999" stroke-width="0.35"/>
<circle cx="245.4" cy="339.2" r="0.9" fill="#d4d4d4" stroke="#999" stroke-width="0.35"/>
<circle cx="259.6" cy="330.8" r="0.9" fill="#d4d4d4" stroke="#999" stroke-width="0.35"/>
<circle cx="302" cy="278" r="0.9" fill="#d4d4d4" stroke="#999" stroke-width="0.35"/>
<circle cx="311.5" cy="288" r="0.9" fill="#d4d4d4" stroke="#999" stroke-width="0.35"/>
<circle cx="311" cy="300" r="0.9" fill="#d4d4d4" stroke="#999" stroke-width="0.35"/>
<circle cx="297" cy="307.5" r="0.9" fill="#d4d4d4" stroke="#999" stroke-width="0.35"/>
<circle cx="288" cy="286" r="0.9" fill="#d4d4d4" stroke="#999" stroke-width="0.35"/>
<circle cx="281" cy="338.5" r="0.9" fill="#d4d4d4" stroke="#999" stroke-width="0.35"/>
<circle cx="277.5" cy="330" r="0.9" fill="#d4d4d4" stroke="#999" stroke-width="0.35"/>
<circle cx="292" cy="334.5" r="0.9" fill="#d4d4d4" stroke="#999" stroke-width="0.35"/>
<circle cx="295.5" cy="321" r="0.9" fill="#d4d4d4" stroke="#999" stroke-width="0.35"/>
<circle cx="291" cy="310" r="0.9" fill="#d4d4d4" stroke="#999" stroke-width="0.35"/>
<circle cx="285.5" cy="310" r="0.9" fill="#d4d4d4" stroke="#999" stroke-width="0.35"/>
<circle cx="240.3" cy="287.4" r="1.95" fill="#9090d8" stroke="#505090" stroke-width="0.4"/>
<circle cx="247" cy="289.4" r="1.85" fill="#686868" stroke="#222" stroke-width="0.45"/>
<circle cx="256.3" cy="292" r="1.85" fill="#686868" stroke="#222" stroke-width="0.45"/>
<circle cx="263.5" cy="284.8" r="1.85" fill="#686868" stroke="#222" stroke-width="0.45"/>
<circle cx="269.6" cy="279.7" r="1.95" fill="#9090d8" stroke="#505090" stroke-width="0.4"/>
<circle cx="256.4" cy="300.7" r="1.85" fill="#686868" stroke="#222" stroke-width="0.45"/>
<circle cx="248.4" cy="305.8" r="1.8" fill="#c81818" stroke="#701010" stroke-width="0.45"/>
<circle cx="247.4" cy="314.8" r="1.85" fill="#686868" stroke="#222" stroke-width="0.45"/>
<circle cx="239" cy="319.9" r="1.85" fill="#686868" stroke="#222" stroke-width="0.45"/>
<circle cx="238.4" cy="328.9" r="1.85" fill="#686868" stroke="#222" stroke-width="0.45"/>
<circle cx="246.1" cy="333.4" r="1.85" fill="#686868" stroke="#222" stroke-width="0.45"/>
<circle cx="254.4" cy="327.6" r="1.85" fill="#686868" stroke="#222" stroke-width="0.45"/>
<circle cx="255.1" cy="318.6" r="1.85" fill="#686868" stroke="#222" stroke-width="0.45"/>
<circle cx="264.6" cy="304.4" r="1.85" fill="#686868" stroke="#222" stroke-width="0.45"/>
<circle cx="264.1" cy="312.9" r="1.85" fill="#686868" stroke="#222" stroke-width="0.45"/>
<circle cx="271.1" cy="317.2" r="1.8" fill="#c81818" stroke="#701010" stroke-width="0.45"/>
<circle cx="274" cy="299" r="1.85" fill="#686868" stroke="#222" stroke-width="0.45"/>
<circle cx="281.6" cy="304" r="1.85" fill="#686868" stroke="#222" stroke-width="0.45"/>
<circle cx="281" cy="314" r="1.85" fill="#686868" stroke="#222" stroke-width="0.45"/>
<circle cx="291" cy="299" r="1.85" fill="#686868" stroke="#222" stroke-width="0.45"/>
<circle cx="293" cy="289" r="1.85" fill="#686868" stroke="#222" stroke-width="0.45"/>
<circle cx="301" cy="284" r="1.85" fill="#686868" stroke="#222" stroke-width="0.45"/>
<circle cx="308" cy="289" r="1.85" fill="#686868" stroke="#222" stroke-width="0.45"/>
<circle cx="306" cy="299" r="1.85" fill="#686868" stroke="#222" stroke-width="0.45"/>
<circle cx="297.6" cy="303" r="1.85" fill="#686868" stroke="#222" stroke-width="0.45"/>
<circle cx="284" cy="319" r="1.85" fill="#686868" stroke="#222" stroke-width="0.45"/>
<circle cx="282" cy="329" r="1.85" fill="#686868" stroke="#222" stroke-width="0.45"/>
<circle cx="285" cy="334" r="1.85" fill="#686868" stroke="#222" stroke-width="0.45"/>
<circle cx="290" cy="330" r="1.85" fill="#686868" stroke="#222" stroke-width="0.45"/>
<circle cx="292" cy="321" r="1.85" fill="#686868" stroke="#222" stroke-width="0.45"/>
<circle cx="289" cy="315" r="1.85" fill="#686868" stroke="#222" stroke-width="0.45"/>
<text x="330.4" y="8.1" font-size="9.4" fill="#111" stroke="#111" stroke-width="0.09" font-weight="bold" text-anchor="start" font-style="normal" >c</text>
<path d="M366.6,127.1 C367.58,126.98 369.77,126.52 372.5,126.4 C375.23,126.28 380.08,126.25 383,126.4 C385.92,126.55 385.92,126.98 390,127.3 C394.08,127.62 400,127.97 407.5,128.3 C415,128.63 429.15,129.17 435,129.3 C440.85,129.43 437.6,129.08 442.6,129.1 C447.6,129.12 459.17,129.28 465,129.4 C470.83,129.52 473.77,129.65 477.6,129.8 C481.43,129.95 484.33,130.23 488,130.3 C491.67,130.37 497.67,130.22 499.6,130.2" fill="none" stroke="#333" stroke-width="0.8" stroke-linejoin="round" />
<path d="M366.4,85 C366.93,82.78 368.32,76.38 369.6,71.7 C370.88,67.02 372.58,61.85 374.1,56.9 C375.62,51.95 377.17,46.58 378.7,42 C380.23,37.42 381.97,32.83 383.3,29.4 C384.63,25.97 385.57,23.22 386.7,21.4 C387.83,19.58 388.95,18.88 390.1,18.5 C391.25,18.12 392.27,18.42 393.6,19.1 C394.93,19.78 396.58,21.27 398.1,22.6 C399.62,23.93 401.17,25.58 402.7,27.1 C404.23,28.62 405.77,29.78 407.3,31.7 C408.83,33.62 410.38,35.93 411.9,38.6 C413.42,41.27 414.88,44.47 416.4,47.7 C417.92,50.93 419.47,54.77 421,58 C422.53,61.23 424.08,64.25 425.6,67.1 C427.12,69.95 428.58,72.62 430.1,75.1 C431.62,77.58 433.17,79.7 434.7,82 C436.23,84.3 437.75,86.57 439.3,88.9 C440.85,91.23 442.22,93.65 444,96 C445.78,98.35 447.33,100.4 450,103 C452.67,105.6 456.67,109.37 460,111.6 C463.33,113.83 466.67,114.9 470,116.4 C473.33,117.9 476.67,119.6 480,120.6 C483.33,121.6 486.73,121.9 490,122.4 C493.27,122.9 498,123.4 499.6,123.6" fill="none" stroke="#f03030" stroke-width="0.9" stroke-linejoin="round" />
<rect x="366.5" y="7.5" width="134" height="133" fill="none" stroke="#555" stroke-width="1"/>
<line x1="364.2" y1="129.4" x2="366.5" y2="129.4" stroke="#555" stroke-width="0.8" />
<text x="363.2" y="132" font-size="7.4" fill="#333" stroke="#333" stroke-width="0.16" font-weight="normal" text-anchor="end" font-style="normal" >0.0</text>
<line x1="365.2" y1="118.3" x2="366.5" y2="118.3" stroke="#555" stroke-width="0.8" />
<line x1="364.2" y1="107.2" x2="366.5" y2="107.2" stroke="#555" stroke-width="0.8" />
<text x="363.2" y="109.8" font-size="7.4" fill="#333" stroke="#333" stroke-width="0.16" font-weight="normal" text-anchor="end" font-style="normal" >0.2</text>
<line x1="365.2" y1="96.1" x2="366.5" y2="96.1" stroke="#555" stroke-width="0.8" />
<line x1="364.2" y1="85" x2="366.5" y2="85" stroke="#555" stroke-width="0.8" />
<text x="363.2" y="87.6" font-size="7.4" fill="#333" stroke="#333" stroke-width="0.16" font-weight="normal" text-anchor="end" font-style="normal" >0.4</text>
<line x1="365.2" y1="73.9" x2="366.5" y2="73.9" stroke="#555" stroke-width="0.8" />
<line x1="364.2" y1="62.8" x2="366.5" y2="62.8" stroke="#555" stroke-width="0.8" />
<text x="363.2" y="65.4" font-size="7.4" fill="#333" stroke="#333" stroke-width="0.16" font-weight="normal" text-anchor="end" font-style="normal" >0.6</text>
<line x1="365.2" y1="51.7" x2="366.5" y2="51.7" stroke="#555" stroke-width="0.8" />
<line x1="364.2" y1="40.6" x2="366.5" y2="40.6" stroke="#555" stroke-width="0.8" />
<text x="363.2" y="43.2" font-size="7.4" fill="#333" stroke="#333" stroke-width="0.16" font-weight="normal" text-anchor="end" font-style="normal" >0.8</text>
<line x1="365.2" y1="29.5" x2="366.5" y2="29.5" stroke="#555" stroke-width="0.8" />
<line x1="364.2" y1="18.4" x2="366.5" y2="18.4" stroke="#555" stroke-width="0.8" />
<text x="363.2" y="21" font-size="7.4" fill="#333" stroke="#333" stroke-width="0.16" font-weight="normal" text-anchor="end" font-style="normal" >1.0</text>
<line x1="366.5" y1="140.5" x2="366.5" y2="142.8" stroke="#555" stroke-width="0.8" />
<text x="366.5" y="150.2" font-size="7" fill="#333" stroke="#333" stroke-width="0.15" font-weight="normal" text-anchor="middle" font-style="normal" >500</text>
<line x1="375.43" y1="140.5" x2="375.43" y2="141.9" stroke="#555" stroke-width="0.8" />
<line x1="384.37" y1="140.5" x2="384.37" y2="141.9" stroke="#555" stroke-width="0.8" />
<line x1="393.3" y1="140.5" x2="393.3" y2="141.9" stroke="#555" stroke-width="0.8" />
<line x1="402.23" y1="140.5" x2="402.23" y2="141.9" stroke="#555" stroke-width="0.8" />
<line x1="411.17" y1="140.5" x2="411.17" y2="142.8" stroke="#555" stroke-width="0.8" />
<text x="411.17" y="150.2" font-size="7" fill="#333" stroke="#333" stroke-width="0.15" font-weight="normal" text-anchor="middle" font-style="normal" >600</text>
<line x1="420.1" y1="140.5" x2="420.1" y2="141.9" stroke="#555" stroke-width="0.8" />
<line x1="429.03" y1="140.5" x2="429.03" y2="141.9" stroke="#555" stroke-width="0.8" />
<line x1="437.97" y1="140.5" x2="437.97" y2="141.9" stroke="#555" stroke-width="0.8" />
<line x1="446.9" y1="140.5" x2="446.9" y2="141.9" stroke="#555" stroke-width="0.8" />
<line x1="455.83" y1="140.5" x2="455.83" y2="142.8" stroke="#555" stroke-width="0.8" />
<text x="455.83" y="150.2" font-size="7" fill="#333" stroke="#333" stroke-width="0.15" font-weight="normal" text-anchor="middle" font-style="normal" >700</text>
<line x1="464.77" y1="140.5" x2="464.77" y2="141.9" stroke="#555" stroke-width="0.8" />
<line x1="473.7" y1="140.5" x2="473.7" y2="141.9" stroke="#555" stroke-width="0.8" />
<line x1="482.63" y1="140.5" x2="482.63" y2="141.9" stroke="#555" stroke-width="0.8" />
<line x1="491.57" y1="140.5" x2="491.57" y2="141.9" stroke="#555" stroke-width="0.8" />
<line x1="500.5" y1="140.5" x2="500.5" y2="142.8" stroke="#555" stroke-width="0.8" />
<text x="500.5" y="150.2" font-size="7" fill="#333" stroke="#333" stroke-width="0.15" font-weight="normal" text-anchor="middle" font-style="normal" >800</text>
<text x="433.3" y="162.9" font-size="8.4" fill="#111" stroke="#111" stroke-width="0.08" font-weight="bold" text-anchor="middle" font-style="normal" >Wavelength (nm)</text>
<text transform="translate(346.2,72.5) rotate(-90)" font-size="8.45" font-weight="bold" fill="#111" text-anchor="middle">Normalized PL Intensity (arb. units)</text>
<text x="459" y="22" font-size="7.3" fill="#333"><tspan font-style="italic">f</tspan><tspan font-size="4" dy="1.8">w</tspan><tspan dy="-1.8"> (vol %)</tspan></text>
<line x1="464.9" y1="31.4" x2="481.6" y2="31.4" stroke="#333" stroke-width="0.8" />
<text x="492" y="34.2" font-size="7" fill="#333" stroke="#333" stroke-width="0.15" font-weight="normal" text-anchor="end" font-style="normal" >0</text>
<line x1="464.9" y1="40.4" x2="481.6" y2="40.4" stroke="#f03030" stroke-width="0.8" />
<text x="492" y="43.2" font-size="7" fill="#333" stroke="#333" stroke-width="0.15" font-weight="normal" text-anchor="end" font-style="normal" >99</text>
<text x="507.4" y="7.8" font-size="9.6" fill="#111" stroke="#111" stroke-width="0.21" font-weight="normal" text-anchor="start" font-style="normal" >d</text>
<path d="M545,126 C546,125.9 549,125.57 551,125.4 C553,125.23 555,124.93 557,125 C559,125.07 560.83,125.48 563,125.8 C565.17,126.12 567.17,126.62 570,126.9 C572.83,127.18 575,127.32 580,127.5 C585,127.68 593.33,127.9 600,128 C606.67,128.1 611.67,128.05 620,128.1 C628.33,128.15 640.23,128.25 650,128.3 C659.77,128.35 673.83,128.38 678.6,128.4" fill="none" stroke="#555" stroke-width="0.8" stroke-linejoin="round" />
<path d="M545,103 C546.17,102.57 549.5,101 552,100.4 C554.5,99.8 557.33,99.57 560,99.4 C562.67,99.23 565.33,98.97 568,99.4 C570.67,99.83 573,100.57 576,102 C579,103.43 582.67,106.07 586,108 C589.33,109.93 592,111.93 596,113.6 C600,115.27 606,116.8 610,118 C614,119.2 617,120.07 620,120.8 C623,121.53 624.67,121.82 628,122.4 C631.33,122.98 636.22,123.72 640,124.3 C643.78,124.88 646.53,125.48 650.7,125.9 C654.87,126.32 660.35,126.57 665,126.8 C669.65,127.03 676.33,127.22 678.6,127.3" fill="none" stroke="#3a9a3a" stroke-width="0.8" stroke-linejoin="round" />
<path d="M545,91 C546.17,89.5 549.5,84.23 552,82 C554.5,79.77 557.33,78.6 560,77.6 C562.67,76.6 565.33,75.77 568,76 C570.67,76.23 573.33,77 576,79 C578.67,81 581,84.83 584,88 C587,91.17 591,95.33 594,98 C597,100.67 599.33,102.33 602,104 C604.67,105.67 607,106.5 610,108 C613,109.5 617,111.55 620,113 C623,114.45 624.67,115.45 628,116.7 C631.33,117.95 636.22,119.43 640,120.5 C643.78,121.57 646.53,122.3 650.7,123.1 C654.87,123.9 660.35,124.73 665,125.3 C669.65,125.87 676.33,126.3 678.6,126.5" fill="none" stroke="#a04040" stroke-width="0.8" stroke-linejoin="round" />
<path d="M545,75 C545.83,73.67 548.17,69.5 550,67 C551.83,64.5 553.83,61.97 556,60 C558.17,58.03 560.67,56.2 563,55.2 C565.33,54.2 567.83,54.03 570,54 C572.17,53.97 573.67,53.5 576,55 C578.33,56.5 581,59 584,63 C587,67 590.5,74.62 594,79 C597.5,83.38 601.33,85.63 605,89.3 C608.67,92.97 612.17,97.38 616,101 C619.83,104.62 624,108.42 628,111 C632,113.58 636.22,115 640,116.5 C643.78,118 646.53,118.83 650.7,120 C654.87,121.17 660.35,122.52 665,123.5 C669.65,124.48 676.33,125.5 678.6,125.9" fill="none" stroke="#ff30ff" stroke-width="0.8" stroke-linejoin="round" />
<path d="M545,61.11 C546.17,58.64 549.5,50.52 552,46.32 C554.5,42.13 557.83,38.15 560,35.92 C562.17,33.68 563.33,33.57 565,32.9 C566.67,32.24 568.17,31.86 570,31.93 C571.83,31.99 574,32.04 576,33.29 C578,34.54 579.67,35.93 582,39.42 C584.33,42.9 587,48.98 590,54.2 C593,59.42 596.83,65.96 600,70.74 C603.17,75.52 606,79.02 609,82.9 C612,86.77 614.83,90.4 618,93.98 C621.17,97.57 624.33,101.23 628,104.39 C631.67,107.55 636.22,110.63 640,112.95 C643.78,115.27 646.53,116.68 650.7,118.3 C654.87,119.92 660.35,121.53 665,122.68 C669.65,123.83 676.33,124.79 678.6,125.21" fill="none" stroke="#3838ff" stroke-width="0.8" stroke-linejoin="round" />
<path d="M545,54.87 C546.17,52.17 549.5,43.31 552,38.72 C554.5,34.14 557.83,29.8 560,27.36 C562.17,24.91 563.33,24.79 565,24.06 C566.67,23.34 568.17,22.93 570,23 C571.83,23.07 574,23.13 576,24.49 C578,25.85 579.67,27.37 582,31.18 C584.33,34.99 587,41.62 590,47.32 C593,53.02 596.83,60.16 600,65.38 C603.17,70.6 606,74.43 609,78.66 C612,82.89 614.83,86.85 618,90.76 C621.17,94.68 624.33,98.68 628,102.13 C631.67,105.58 636.22,108.94 640,111.48 C643.78,114.01 646.53,115.55 650.7,117.32 C654.87,119.09 660.35,120.84 665,122.1 C669.65,123.35 676.33,124.4 678.6,124.86" fill="none" stroke="#9a40ff" stroke-width="0.8" stroke-linejoin="round" />
<path d="M545,56.04 C546.17,53.39 549.5,44.66 552,40.15 C554.5,35.63 557.83,31.37 560,28.96 C562.17,26.56 563.33,26.44 565,25.72 C566.67,25.01 568.17,24.61 570,24.68 C571.83,24.75 574,24.8 576,26.14 C578,27.48 579.67,28.98 582,32.73 C584.33,36.47 587,43 590,48.61 C593,54.22 596.83,61.25 600,66.38 C603.17,71.52 606,75.29 609,79.45 C612,83.62 614.83,87.52 618,91.37 C621.17,95.22 624.33,99.16 628,102.55 C631.67,105.95 636.22,109.26 640,111.75 C643.78,114.24 646.53,115.76 650.7,117.5 C654.87,119.24 660.35,120.97 665,122.21 C669.65,123.44 676.33,124.47 678.6,124.92" fill="none" stroke="#ff2020" stroke-width="0.8" stroke-linejoin="round" />
<path d="M545,50.96 C546.17,48.13 549.5,38.8 552,33.97 C554.5,29.14 557.83,24.58 560,22.01 C562.17,19.44 563.33,19.31 565,18.54 C566.67,17.78 568.17,17.35 570,17.42 C571.83,17.5 574,17.55 576,18.99 C578,20.42 579.67,22.03 582,26.03 C584.33,30.04 587,37.03 590,43.03 C593,49.03 596.83,56.53 600,62.03 C603.17,67.53 606,71.55 609,76.01 C612,80.46 614.83,84.63 618,88.75 C621.17,92.87 624.33,97.08 628,100.71 C631.67,104.35 636.22,107.89 640,110.55 C643.78,113.22 646.53,114.84 650.7,116.7 C654.87,118.57 660.35,120.41 665,121.73 C669.65,123.06 676.33,124.16 678.6,124.64" fill="none" stroke="#ff9a30" stroke-width="0.8" stroke-linejoin="round" />
<rect x="545" y="6.5" width="134.1" height="133.5" fill="none" stroke="#555" stroke-width="1"/>
<line x1="542.7" y1="129" x2="545" y2="129" stroke="#555" stroke-width="0.8" />
<text x="541.6" y="131.5" font-size="7.2" fill="#333" stroke="#333" stroke-width="0.16" font-weight="normal" text-anchor="end" font-style="normal" >0.0</text>
<line x1="543.7" y1="117.82" x2="545" y2="117.82" stroke="#555" stroke-width="0.8" />
<line x1="542.7" y1="106.64" x2="545" y2="106.64" stroke="#555" stroke-width="0.8" />
<text x="541.6" y="109.14" font-size="7.2" fill="#333" stroke="#333" stroke-width="0.16" font-weight="normal" text-anchor="end" font-style="normal" >0.2</text>
<line x1="543.7" y1="95.46" x2="545" y2="95.46" stroke="#555" stroke-width="0.8" />
<line x1="542.7" y1="84.28" x2="545" y2="84.28" stroke="#555" stroke-width="0.8" />
<text x="541.6" y="86.78" font-size="7.2" fill="#333" stroke="#333" stroke-width="0.16" font-weight="normal" text-anchor="end" font-style="normal" >0.4</text>
<line x1="543.7" y1="73.1" x2="545" y2="73.1" stroke="#555" stroke-width="0.8" />
<line x1="542.7" y1="61.92" x2="545" y2="61.92" stroke="#555" stroke-width="0.8" />
<text x="541.6" y="64.42" font-size="7.2" fill="#333" stroke="#333" stroke-width="0.16" font-weight="normal" text-anchor="end" font-style="normal" >0.6</text>
<line x1="543.7" y1="50.74" x2="545" y2="50.74" stroke="#555" stroke-width="0.8" />
<line x1="542.7" y1="39.56" x2="545" y2="39.56" stroke="#555" stroke-width="0.8" />
<text x="541.6" y="42.06" font-size="7.2" fill="#333" stroke="#333" stroke-width="0.16" font-weight="normal" text-anchor="end" font-style="normal" >0.8</text>
<line x1="543.7" y1="28.38" x2="545" y2="28.38" stroke="#555" stroke-width="0.8" />
<line x1="542.7" y1="17.2" x2="545" y2="17.2" stroke="#555" stroke-width="0.8" />
<text x="541.6" y="19.7" font-size="7.2" fill="#333" stroke="#333" stroke-width="0.16" font-weight="normal" text-anchor="end" font-style="normal" >1.0</text>
<line x1="545" y1="140" x2="545" y2="142.3" stroke="#555" stroke-width="0.8" />
<text x="545" y="150.2" font-size="7" fill="#333" stroke="#333" stroke-width="0.15" font-weight="normal" text-anchor="middle" font-style="normal" >500</text>
<line x1="551.71" y1="140" x2="551.71" y2="141.4" stroke="#555" stroke-width="0.8" />
<line x1="558.41" y1="140" x2="558.41" y2="141.4" stroke="#555" stroke-width="0.8" />
<line x1="565.12" y1="140" x2="565.12" y2="141.4" stroke="#555" stroke-width="0.8" />
<line x1="571.82" y1="140" x2="571.82" y2="141.4" stroke="#555" stroke-width="0.8" />
<line x1="578.52" y1="140" x2="578.52" y2="142.3" stroke="#555" stroke-width="0.8" />
<text x="578.52" y="150.2" font-size="7" fill="#333" stroke="#333" stroke-width="0.15" font-weight="normal" text-anchor="middle" font-style="normal" >550</text>
<line x1="585.23" y1="140" x2="585.23" y2="141.4" stroke="#555" stroke-width="0.8" />
<line x1="591.94" y1="140" x2="591.94" y2="141.4" stroke="#555" stroke-width="0.8" />
<line x1="598.64" y1="140" x2="598.64" y2="141.4" stroke="#555" stroke-width="0.8" />
<line x1="605.35" y1="140" x2="605.35" y2="141.4" stroke="#555" stroke-width="0.8" />
<line x1="612.05" y1="140" x2="612.05" y2="142.3" stroke="#555" stroke-width="0.8" />
<text x="612.05" y="150.2" font-size="7" fill="#333" stroke="#333" stroke-width="0.15" font-weight="normal" text-anchor="middle" font-style="normal" >600</text>
<line x1="618.75" y1="140" x2="618.75" y2="141.4" stroke="#555" stroke-width="0.8" />
<line x1="625.46" y1="140" x2="625.46" y2="141.4" stroke="#555" stroke-width="0.8" />
<line x1="632.16" y1="140" x2="632.16" y2="141.4" stroke="#555" stroke-width="0.8" />
<line x1="638.87" y1="140" x2="638.87" y2="141.4" stroke="#555" stroke-width="0.8" />
<line x1="645.58" y1="140" x2="645.58" y2="142.3" stroke="#555" stroke-width="0.8" />
<text x="645.58" y="150.2" font-size="7" fill="#333" stroke="#333" stroke-width="0.15" font-weight="normal" text-anchor="middle" font-style="normal" >650</text>
<line x1="652.28" y1="140" x2="652.28" y2="141.4" stroke="#555" stroke-width="0.8" />
<line x1="658.99" y1="140" x2="658.99" y2="141.4" stroke="#555" stroke-width="0.8" />
<line x1="665.69" y1="140" x2="665.69" y2="141.4" stroke="#555" stroke-width="0.8" />
<line x1="672.39" y1="140" x2="672.39" y2="141.4" stroke="#555" stroke-width="0.8" />
<line x1="679.1" y1="140" x2="679.1" y2="142.3" stroke="#555" stroke-width="0.8" />
<text x="679.1" y="150.2" font-size="7" fill="#333" stroke="#333" stroke-width="0.15" font-weight="normal" text-anchor="middle" font-style="normal" >700</text>
<text x="612" y="162.5" font-size="8.4" fill="#111" stroke="#111" stroke-width="0.08" font-weight="bold" text-anchor="middle" font-style="normal" >Wavelength (nm)</text>
<text transform="translate(525.4,72.5) rotate(-90)" font-size="8.45" font-weight="bold" fill="#111" text-anchor="middle">Normalized PL Intensity (arb. units)</text>
<text x="639.2" y="20.2" font-size="7.3" fill="#333" stroke="#333" stroke-width="0.16" font-weight="normal" text-anchor="start" font-style="normal" >Time (s)</text>
<line x1="644.9" y1="27.9" x2="661.4" y2="27.9" stroke="#888" stroke-width="0.9" />
<text x="671.8" y="30.4" font-size="7" fill="#333" stroke="#333" stroke-width="0.15" font-weight="normal" text-anchor="end" font-style="normal" >0</text>
<line x1="644.9" y1="36.98" x2="661.4" y2="36.98" stroke="#4aaa4a" stroke-width="0.9" />
<text x="671.8" y="39.48" font-size="7" fill="#333" stroke="#333" stroke-width="0.15" font-weight="normal" text-anchor="end" font-style="normal" >1</text>
<line x1="644.9" y1="46.06" x2="661.4" y2="46.06" stroke="#a85050" stroke-width="0.9" />
<text x="671.8" y="48.56" font-size="7" fill="#333" stroke="#333" stroke-width="0.15" font-weight="normal" text-anchor="end" font-style="normal" >2</text>
<line x1="644.9" y1="55.14" x2="661.4" y2="55.14" stroke="#ff40ff" stroke-width="0.9" />
<text x="671.8" y="57.64" font-size="7" fill="#333" stroke="#333" stroke-width="0.15" font-weight="normal" text-anchor="end" font-style="normal" >3</text>
<line x1="644.9" y1="64.22" x2="661.4" y2="64.22" stroke="#4848ff" stroke-width="0.9" />
<text x="671.8" y="66.72" font-size="7" fill="#333" stroke="#333" stroke-width="0.15" font-weight="normal" text-anchor="end" font-style="normal" >5</text>
<line x1="644.9" y1="73.3" x2="661.4" y2="73.3" stroke="#9a50ff" stroke-width="0.9" />
<text x="671.8" y="75.8" font-size="7" fill="#333" stroke="#333" stroke-width="0.15" font-weight="normal" text-anchor="end" font-style="normal" >7</text>
<line x1="644.9" y1="82.38" x2="661.4" y2="82.38" stroke="#ffa040" stroke-width="0.9" />
<text x="671.8" y="84.88" font-size="7" fill="#333" stroke="#333" stroke-width="0.15" font-weight="normal" text-anchor="end" font-style="normal" >10</text>
<line x1="644.9" y1="91.46" x2="661.4" y2="91.46" stroke="#ff3030" stroke-width="0.9" />
<text x="671.8" y="93.96" font-size="7" fill="#333" stroke="#333" stroke-width="0.15" font-weight="normal" text-anchor="end" font-style="normal" >30</text>
<text x="329.9" y="180" font-size="10.5" fill="#111" stroke="#111" stroke-width="0.23" font-weight="normal" text-anchor="start" font-style="normal" >e</text>
<line x1="351" y1="178" x2="351" y2="329" stroke="#c4c4c4" stroke-width="1.8" />
<path d="M350.8,170 L353.6,178.6 L348.1,178.6 Z" fill="#111"/>
<text transform="translate(347,248.5) rotate(-90)" font-size="6.1" fill="#444" text-anchor="middle">&#916;G (kcal/mol)</text>
<line x1="360" y1="207.6" x2="392.4" y2="207.6" stroke="#ff1a1a" stroke-width="1.5" />
<line x1="494" y1="210.4" x2="529.6" y2="210.4" stroke="#ff1a1a" stroke-width="1.5" />
<line x1="360" y1="294.6" x2="393" y2="294.6" stroke="#222" stroke-width="1.5" />
<line x1="426.5" y1="252.6" x2="463.5" y2="252.6" stroke="#222" stroke-width="1.5" />
<line x1="494" y1="276.8" x2="531.4" y2="276.8" stroke="#222" stroke-width="1.5" />
<line x1="560" y1="266.7" x2="596" y2="266.7" stroke="#222" stroke-width="1.5" />
<line x1="625.5" y1="289.3" x2="657" y2="289.3" stroke="#222" stroke-width="1.5" />
<line x1="393" y1="294.6" x2="426.5" y2="252.6" stroke="#333" stroke-width="0.6" stroke-dasharray="1.3,0.5"/>
<line x1="463.5" y1="252.6" x2="494" y2="276.8" stroke="#333" stroke-width="0.6" stroke-dasharray="1.3,0.5"/>
<line x1="531.4" y1="276.8" x2="560" y2="266.7" stroke="#333" stroke-width="0.7" stroke-dasharray="1.6,0.9"/>
<line x1="596" y1="266.7" x2="625.5" y2="289.3" stroke="#333" stroke-width="0.6" stroke-dasharray="1.6,0.9"/>
<line x1="392.4" y1="207.6" x2="426.5" y2="252.6" stroke="#ff1a1a" stroke-width="0.7" stroke-dasharray="1.4,0.6"/>
<line x1="529.6" y1="210.4" x2="560" y2="266.7" stroke="#ff1a1a" stroke-width="0.7" stroke-dasharray="1.4,0.6"/>
<text x="373.1" y="204.6" font-size="6.4" fill="#ff1a1a" stroke="#ff1a1a" stroke-width="0.14" font-weight="normal" text-anchor="middle" font-style="normal"  textLength="16.2" lengthAdjust="spacingAndGlyphs">83.16</text>
<text x="509.1" y="206.8" font-size="6.4" fill="#ff1a1a" stroke="#ff1a1a" stroke-width="0.14" font-weight="normal" text-anchor="middle" font-style="normal"  textLength="16.2" lengthAdjust="spacingAndGlyphs">75.62</text>
<text x="373.2" y="290.7" font-size="6.2" fill="#333" stroke="#333" stroke-width="0.14" font-weight="normal" text-anchor="middle" font-style="normal"  textLength="14.4" lengthAdjust="spacingAndGlyphs">-6.54</text>
<text x="442.7" y="248.7" font-size="6.4" fill="#333" stroke="#333" stroke-width="0.14" font-weight="normal" text-anchor="middle" font-style="normal" >30.44</text>
<text x="509.8" y="273" font-size="6.4" fill="#333" stroke="#333" stroke-width="0.14" font-weight="normal" text-anchor="middle" font-style="normal" >5.28</text>
<text x="575.2" y="262.7" font-size="6.4" fill="#333" stroke="#333" stroke-width="0.14" font-weight="normal" text-anchor="middle" font-style="normal" >20.70</text>
<text x="640" y="285.9" font-size="6.2" fill="#333" stroke="#333" stroke-width="0.14" font-weight="normal" text-anchor="middle" font-style="normal"  textLength="14" lengthAdjust="spacingAndGlyphs">-6.07</text>
<text x="372.1" y="305.9" font-size="7.0" fill="#111" stroke="#111" stroke-width="0.07" font-weight="bold" text-anchor="middle" font-style="normal"  textLength="22.4" lengthAdjust="spacingAndGlyphs">DPXDC</text>
<text x="438.7" y="262.5" font-size="6.6" font-weight="bold" fill="#111">TS<tspan font-size="4.2" dy="1.3">8</tspan></text>
<text x="502.8" y="288" font-size="6.9" font-weight="bold" fill="#111">INT<tspan font-size="4.2" dy="1.3">4</tspan></text>
<text x="571.4" y="278.3" font-size="6.6" font-weight="bold" fill="#111">TS<tspan font-size="4.2" dy="1.3">9</tspan></text>
<text x="637.9" y="300.8" font-size="6.6" fill="#111" stroke="#111" stroke-width="0.07" font-weight="bold" text-anchor="middle" font-style="normal"  textLength="27" lengthAdjust="spacingAndGlyphs">DPPCYM</text>
<line x1="375.5" y1="225" x2="375.5" y2="275.6" stroke="#777" stroke-width="0.8" />
<path d="M375.5,217.2 L378.1,227.4 L372.9,227.4 Z" fill="#111"/>
<text x="381.6" y="252" font-size="6.4" fill="#333" stroke="#333" stroke-width="0.14" font-weight="normal" text-anchor="start" font-style="italic" >hv</text>
<line x1="511.6" y1="227" x2="511.6" y2="263" stroke="#777" stroke-width="0.8" />
<path d="M511.6,219.4 L514.2,229.6 L509.0,229.6 Z" fill="#111"/>
<text x="518" y="244.4" font-size="6.4" fill="#333" stroke="#333" stroke-width="0.14" font-weight="normal" text-anchor="start" font-style="italic" >hv</text>
<path d="M418.6,179.5 L416.2,179.5 L416.2,225 L418.6,225" fill="none" stroke="#555" stroke-width="0.8"/>
<path d="M476.2,179.5 L478.6,179.5 L478.6,225 L476.2,225" fill="none" stroke="#555" stroke-width="0.8"/>
<text x="480.6" y="181.2" font-size="3.8" fill="#222" stroke="#222" stroke-width="0.08" font-weight="normal" text-anchor="start" font-style="normal" >&#8225;</text>
<path d="M546.2,182.3 L543.8,182.3 L543.8,228.1 L546.2,228.1" fill="none" stroke="#555" stroke-width="0.8"/>
<path d="M603.7,182.3 L606.1,182.3 L606.1,228.1 L603.7,228.1" fill="none" stroke="#555" stroke-width="0.8"/>
<text x="609.8" y="184" font-size="3.8" fill="#222" stroke="#222" stroke-width="0.08" font-weight="normal" text-anchor="start" font-style="normal" >&#8225;</text>
<line x1="628.2" y1="180.2" x2="643" y2="180.2" stroke="#ff1a1a" stroke-width="1.3" />
<text x="647.4" y="182.9" font-size="7" fill="#ff1a1a" textLength="23" lengthAdjust="spacingAndGlyphs">S<tspan font-size="4.4" dy="1.3">1</tspan><tspan dy="-1.3"> State</tspan></text>
<line x1="628.2" y1="194.8" x2="643" y2="194.8" stroke="#333" stroke-width="1.3" />
<text x="647.4" y="197.4" font-size="7" fill="#333" textLength="23" lengthAdjust="spacingAndGlyphs">S<tspan font-size="4.4" dy="1.3">0</tspan><tspan dy="-1.3"> State</tspan></text>
<line x1="357.4" y1="342.4" x2="643.2" y2="342.4" stroke="#444" stroke-width="0.8" />
<line x1="357.4" y1="335.6" x2="357.4" y2="349.8" stroke="#444" stroke-width="0.8" />
<line x1="510.6" y1="335.6" x2="510.6" y2="349.8" stroke="#444" stroke-width="0.8" />
<line x1="643.2" y1="335.6" x2="643.2" y2="349.8" stroke="#444" stroke-width="0.8" />
<rect x="404.2" y="335.8" width="60" height="13.6" rx="2.6" fill="#fff" stroke="#555" stroke-width="0.8"/>
<text x="433.5" y="344.5" font-size="6.7" fill="#111" stroke="#111" stroke-width="0.07" font-weight="bold" text-anchor="middle" font-style="normal"  textLength="42.4" lengthAdjust="spacingAndGlyphs">Ring-Opening</text>
<rect x="527.2" y="335.8" width="100.2" height="13.6" rx="2.6" fill="#fff" stroke="#555" stroke-width="0.8"/>
<text x="577.3" y="344.5" font-size="6.7" font-weight="bold" fill="#111" text-anchor="middle">6<tspan font-size="4" dy="1.2">&#960;</tspan><tspan dy="-1.2">-Electron-Cyclization</tspan></text>
<line x1="405.77" y1="301.5" x2="412.79" y2="305.55" stroke="#444" stroke-width="0.6" stroke-linecap="round"/>
<line x1="412.79" y1="305.55" x2="412.79" y2="313.65" stroke="#444" stroke-width="0.6" stroke-linecap="round"/>
<line x1="412.79" y1="313.65" x2="405.77" y2="317.7" stroke="#444" stroke-width="0.6" stroke-linecap="round"/>
<line x1="405.77" y1="317.7" x2="398.76" y2="313.65" stroke="#444" stroke-width="0.6" stroke-linecap="round"/>
<line x1="398.76" y1="313.65" x2="398.76" y2="305.55" stroke="#444" stroke-width="0.6" stroke-linecap="round"/>
<line x1="398.76" y1="305.55" x2="405.77" y2="301.5" stroke="#444" stroke-width="0.6" stroke-linecap="round"/>
<line x1="400.83" y1="306.22" x2="405.32" y2="303.63" stroke="#444" stroke-width="0.6" stroke-linecap="round"/>
<line x1="411.17" y1="307.01" x2="411.17" y2="312.19" stroke="#444" stroke-width="0.6" stroke-linecap="round"/>
<line x1="405.32" y1="315.57" x2="400.83" y2="312.98" stroke="#444" stroke-width="0.6" stroke-linecap="round"/>
<line x1="419.8" y1="301.5" x2="426.81" y2="305.55" stroke="#444" stroke-width="0.6" stroke-linecap="round"/>
<line x1="426.81" y1="305.55" x2="426.81" y2="313.65" stroke="#444" stroke-width="0.6" stroke-linecap="round"/>
<line x1="426.81" y1="313.65" x2="419.8" y2="317.7" stroke="#444" stroke-width="0.6" stroke-linecap="round"/>
<line x1="419.8" y1="317.7" x2="412.79" y2="313.65" stroke="#444" stroke-width="0.6" stroke-linecap="round"/>
<line x1="412.79" y1="305.55" x2="419.8" y2="301.5" stroke="#444" stroke-width="0.6" stroke-linecap="round"/>
<line x1="425.19" y1="307.01" x2="425.19" y2="312.19" stroke="#444" stroke-width="0.6" stroke-linecap="round"/>
<line x1="433.83" y1="301.5" x2="440.84" y2="305.55" stroke="#444" stroke-width="0.6" stroke-linecap="round"/>
<line x1="440.84" y1="305.55" x2="440.84" y2="313.65" stroke="#444" stroke-width="0.6" stroke-linecap="round"/>
<line x1="440.84" y1="313.65" x2="433.83" y2="317.7" stroke="#444" stroke-width="0.6" stroke-linecap="round"/>
<line x1="433.83" y1="317.7" x2="426.81" y2="313.65" stroke="#444" stroke-width="0.6" stroke-linecap="round"/>
<line x1="426.81" y1="305.55" x2="433.83" y2="301.5" stroke="#444" stroke-width="0.6" stroke-linecap="round"/>
<line x1="438.77" y1="312.98" x2="434.28" y2="315.57" stroke="#444" stroke-width="0.6" stroke-linecap="round"/>
<line x1="419.07" y1="317.7" x2="419.07" y2="324.59" stroke="#444" stroke-width="0.6" stroke-linecap="round"/>
<line x1="420.53" y1="317.7" x2="420.53" y2="324.59" stroke="#444" stroke-width="0.6" stroke-linecap="round"/>
<line x1="454.87" y1="289.35" x2="461.89" y2="293.4" stroke="#444" stroke-width="0.6" stroke-linecap="round"/>
<line x1="461.89" y1="293.4" x2="461.89" y2="301.5" stroke="#444" stroke-width="0.6" stroke-linecap="round"/>
<line x1="461.89" y1="301.5" x2="454.87" y2="305.55" stroke="#444" stroke-width="0.6" stroke-linecap="round"/>
<line x1="454.87" y1="305.55" x2="447.86" y2="301.5" stroke="#444" stroke-width="0.6" stroke-linecap="round"/>
<line x1="447.86" y1="301.5" x2="447.86" y2="293.4" stroke="#444" stroke-width="0.6" stroke-linecap="round"/>
<line x1="447.86" y1="293.4" x2="454.87" y2="289.35" stroke="#444" stroke-width="0.6" stroke-linecap="round"/>
<line x1="449.93" y1="294.07" x2="454.42" y2="291.48" stroke="#444" stroke-width="0.6" stroke-linecap="round"/>
<line x1="460.27" y1="294.86" x2="460.27" y2="300.04" stroke="#444" stroke-width="0.6" stroke-linecap="round"/>
<line x1="454.42" y1="303.42" x2="449.93" y2="300.83" stroke="#444" stroke-width="0.6" stroke-linecap="round"/>
<line x1="454.87" y1="313.65" x2="461.89" y2="317.7" stroke="#444" stroke-width="0.6" stroke-linecap="round"/>
<line x1="461.89" y1="317.7" x2="461.89" y2="325.8" stroke="#444" stroke-width="0.6" stroke-linecap="round"/>
<line x1="461.89" y1="325.8" x2="454.87" y2="329.85" stroke="#444" stroke-width="0.6" stroke-linecap="round"/>
<line x1="454.87" y1="329.85" x2="447.86" y2="325.8" stroke="#444" stroke-width="0.6" stroke-linecap="round"/>
<line x1="447.86" y1="325.8" x2="447.86" y2="317.7" stroke="#444" stroke-width="0.6" stroke-linecap="round"/>
<line x1="447.86" y1="317.7" x2="454.87" y2="313.65" stroke="#444" stroke-width="0.6" stroke-linecap="round"/>
<line x1="449.93" y1="318.37" x2="454.42" y2="315.78" stroke="#444" stroke-width="0.6" stroke-linecap="round"/>
<line x1="460.27" y1="319.16" x2="460.27" y2="324.34" stroke="#444" stroke-width="0.6" stroke-linecap="round"/>
<line x1="454.42" y1="327.72" x2="449.93" y2="325.13" stroke="#444" stroke-width="0.6" stroke-linecap="round"/>
<line x1="440.84" y1="305.55" x2="447.86" y2="301.5" stroke="#444" stroke-width="0.6" stroke-linecap="round"/>
<line x1="440.84" y1="313.65" x2="447.86" y2="317.7" stroke="#444" stroke-width="0.6" stroke-linecap="round"/>
<line x1="433.83" y1="301.5" x2="430.18" y2="295.83" stroke="#444" stroke-width="0.6" stroke-linecap="round"/>
<line x1="433.83" y1="301.5" x2="437.47" y2="295.83" stroke="#444" stroke-width="0.6" stroke-linecap="round"/>
<circle cx="419.8" cy="327.02" r="2.03" fill="#fff"/>
<text x="419.8" y="328.75" font-size="4.83" fill="#444" text-anchor="middle">O</text>
<circle cx="419.8" cy="301.5" r="2.03" fill="#fff"/>
<text x="419.8" y="303.24" font-size="4.83" fill="#444" text-anchor="middle">O</text>
<text x="428" y="296.48" font-size="4.6" fill="#444" text-anchor="middle">NC</text>
<text x="439.9" y="296.48" font-size="4.6" fill="#444" text-anchor="middle">CN</text>
<line x1="630.17" y1="257.6" x2="637.1" y2="261.6" stroke="#444" stroke-width="0.6" stroke-linecap="round"/>
<line x1="637.1" y1="261.6" x2="637.1" y2="269.6" stroke="#444" stroke-width="0.6" stroke-linecap="round"/>
<line x1="637.1" y1="269.6" x2="630.17" y2="273.6" stroke="#444" stroke-width="0.6" stroke-linecap="round"/>
<line x1="630.17" y1="273.6" x2="623.24" y2="269.6" stroke="#444" stroke-width="0.6" stroke-linecap="round"/>
<line x1="623.24" y1="269.6" x2="623.24" y2="261.6" stroke="#444" stroke-width="0.6" stroke-linecap="round"/>
<line x1="623.24" y1="261.6" x2="630.17" y2="257.6" stroke="#444" stroke-width="0.6" stroke-linecap="round"/>
<line x1="630.62" y1="259.71" x2="635.05" y2="262.27" stroke="#444" stroke-width="0.6" stroke-linecap="round"/>
<line x1="635.05" y1="268.93" x2="630.62" y2="271.49" stroke="#444" stroke-width="0.6" stroke-linecap="round"/>
<line x1="624.84" y1="268.16" x2="624.84" y2="263.04" stroke="#444" stroke-width="0.6" stroke-linecap="round"/>
<line x1="637.1" y1="245.6" x2="644.03" y2="249.6" stroke="#444" stroke-width="0.6" stroke-linecap="round"/>
<line x1="644.03" y1="249.6" x2="644.03" y2="257.6" stroke="#444" stroke-width="0.6" stroke-linecap="round"/>
<line x1="644.03" y1="257.6" x2="637.1" y2="261.6" stroke="#444" stroke-width="0.6" stroke-linecap="round"/>
<line x1="630.17" y1="257.6" x2="630.17" y2="249.6" stroke="#444" stroke-width="0.6" stroke-linecap="round"/>
<line x1="630.17" y1="249.6" x2="637.1" y2="245.6" stroke="#444" stroke-width="0.6" stroke-linecap="round"/>
<line x1="642.43" y1="251.04" x2="642.43" y2="256.16" stroke="#444" stroke-width="0.6" stroke-linecap="round"/>
<line x1="650.96" y1="245.6" x2="657.88" y2="249.6" stroke="#444" stroke-width="0.6" stroke-linecap="round"/>
<line x1="657.88" y1="249.6" x2="657.88" y2="257.6" stroke="#444" stroke-width="0.6" stroke-linecap="round"/>
<line x1="657.88" y1="257.6" x2="650.96" y2="261.6" stroke="#444" stroke-width="0.6" stroke-linecap="round"/>
<line x1="650.96" y1="261.6" x2="644.03" y2="257.6" stroke="#444" stroke-width="0.6" stroke-linecap="round"/>
<line x1="644.03" y1="249.6" x2="650.96" y2="245.6" stroke="#444" stroke-width="0.6" stroke-linecap="round"/>
<line x1="651.4" y1="247.71" x2="655.84" y2="250.27" stroke="#444" stroke-width="0.6" stroke-linecap="round"/>
<line x1="637.82" y1="245.6" x2="637.82" y2="237.2" stroke="#444" stroke-width="0.6" stroke-linecap="round"/>
<line x1="636.38" y1="245.6" x2="636.38" y2="237.2" stroke="#444" stroke-width="0.6" stroke-linecap="round"/>
<line x1="671.74" y1="233.6" x2="678.67" y2="237.6" stroke="#444" stroke-width="0.6" stroke-linecap="round"/>
<line x1="678.67" y1="237.6" x2="678.67" y2="245.6" stroke="#444" stroke-width="0.6" stroke-linecap="round"/>
<line x1="678.67" y1="245.6" x2="671.74" y2="249.6" stroke="#444" stroke-width="0.6" stroke-linecap="round"/>
<line x1="671.74" y1="249.6" x2="664.81" y2="245.6" stroke="#444" stroke-width="0.6" stroke-linecap="round"/>
<line x1="664.81" y1="245.6" x2="664.81" y2="237.6" stroke="#444" stroke-width="0.6" stroke-linecap="round"/>
<line x1="664.81" y1="237.6" x2="671.74" y2="233.6" stroke="#444" stroke-width="0.6" stroke-linecap="round"/>
<line x1="666.86" y1="238.27" x2="671.29" y2="235.71" stroke="#444" stroke-width="0.6" stroke-linecap="round"/>
<line x1="677.07" y1="239.04" x2="677.07" y2="244.16" stroke="#444" stroke-width="0.6" stroke-linecap="round"/>
<line x1="671.29" y1="247.49" x2="666.86" y2="244.93" stroke="#444" stroke-width="0.6" stroke-linecap="round"/>
<line x1="671.74" y1="257.6" x2="678.67" y2="261.6" stroke="#444" stroke-width="0.6" stroke-linecap="round"/>
<line x1="678.67" y1="261.6" x2="678.67" y2="269.6" stroke="#444" stroke-width="0.6" stroke-linecap="round"/>
<line x1="678.67" y1="269.6" x2="671.74" y2="273.6" stroke="#444" stroke-width="0.6" stroke-linecap="round"/>
<line x1="671.74" y1="273.6" x2="664.81" y2="269.6" stroke="#444" stroke-width="0.6" stroke-linecap="round"/>
<line x1="664.81" y1="269.6" x2="664.81" y2="261.6" stroke="#444" stroke-width="0.6" stroke-linecap="round"/>
<line x1="664.81" y1="261.6" x2="671.74" y2="257.6" stroke="#444" stroke-width="0.6" stroke-linecap="round"/>
<line x1="666.86" y1="262.27" x2="671.29" y2="259.71" stroke="#444" stroke-width="0.6" stroke-linecap="round"/>
<line x1="677.07" y1="263.04" x2="677.07" y2="268.16" stroke="#444" stroke-width="0.6" stroke-linecap="round"/>
<line x1="671.29" y1="271.49" x2="666.86" y2="268.93" stroke="#444" stroke-width="0.6" stroke-linecap="round"/>
<line x1="657.88" y1="249.6" x2="664.81" y2="245.6" stroke="#444" stroke-width="0.6" stroke-linecap="round"/>
<line x1="657.88" y1="257.6" x2="664.81" y2="261.6" stroke="#444" stroke-width="0.6" stroke-linecap="round"/>
<line x1="637.1" y1="237.2" x2="632.14" y2="234.24" stroke="#444" stroke-width="0.6" stroke-linecap="round"/>
<line x1="637.1" y1="237.2" x2="642.06" y2="234.24" stroke="#444" stroke-width="0.6" stroke-linecap="round"/>
<circle cx="630.17" cy="249.6" r="2.03" fill="#fff"/>
<text x="630.17" y="251.34" font-size="4.83" fill="#444" text-anchor="middle">O</text>
<circle cx="650.96" cy="261.6" r="2.03" fill="#fff"/>
<text x="650.96" y="263.34" font-size="4.83" fill="#444" text-anchor="middle">O</text>
<text x="628.7" y="235.04" font-size="4.6" fill="#444" text-anchor="middle">NC</text>
<text x="645.9" y="235.04" font-size="4.6" fill="#444" text-anchor="middle">CN</text>
<line x1="554.27" y1="210.2" x2="561.2" y2="214.2" stroke="#555" stroke-width="0.55" stroke-linecap="round"/>
<line x1="561.2" y1="214.2" x2="561.2" y2="222.2" stroke="#555" stroke-width="0.55" stroke-linecap="round"/>
<line x1="561.2" y1="222.2" x2="554.27" y2="226.2" stroke="#555" stroke-width="0.55" stroke-linecap="round"/>
<line x1="554.27" y1="226.2" x2="547.34" y2="222.2" stroke="#555" stroke-width="0.55" stroke-linecap="round"/>
<line x1="547.34" y1="222.2" x2="547.34" y2="214.2" stroke="#555" stroke-width="0.55" stroke-linecap="round"/>
<line x1="547.34" y1="214.2" x2="554.27" y2="210.2" stroke="#555" stroke-width="0.55" stroke-linecap="round"/>
<line x1="554.72" y1="212.31" x2="559.15" y2="214.87" stroke="#555" stroke-width="0.55" stroke-linecap="round"/>
<line x1="559.15" y1="221.53" x2="554.72" y2="224.09" stroke="#555" stroke-width="0.55" stroke-linecap="round"/>
<line x1="548.94" y1="220.76" x2="548.94" y2="215.64" stroke="#555" stroke-width="0.55" stroke-linecap="round"/>
<line x1="561.2" y1="198.2" x2="568.13" y2="202.2" stroke="#555" stroke-width="0.55" stroke-linecap="round"/>
<line x1="568.13" y1="202.2" x2="568.13" y2="210.2" stroke="#555" stroke-width="0.55" stroke-linecap="round"/>
<line x1="568.13" y1="210.2" x2="561.2" y2="214.2" stroke="#555" stroke-width="0.55" stroke-linecap="round"/>
<line x1="554.27" y1="210.2" x2="554.27" y2="202.2" stroke="#555" stroke-width="0.55" stroke-linecap="round"/>
<line x1="554.27" y1="202.2" x2="561.2" y2="198.2" stroke="#555" stroke-width="0.55" stroke-linecap="round"/>
<line x1="566.53" y1="203.64" x2="566.53" y2="208.76" stroke="#555" stroke-width="0.55" stroke-linecap="round"/>
<line x1="575.06" y1="198.2" x2="581.98" y2="202.2" stroke="#555" stroke-width="0.55" stroke-linecap="round"/>
<line x1="581.98" y1="202.2" x2="581.98" y2="210.2" stroke="#555" stroke-width="0.55" stroke-linecap="round"/>
<line x1="581.98" y1="210.2" x2="575.06" y2="214.2" stroke="#555" stroke-width="0.55" stroke-linecap="round"/>
<line x1="575.06" y1="214.2" x2="568.13" y2="210.2" stroke="#555" stroke-width="0.55" stroke-linecap="round"/>
<line x1="568.13" y1="202.2" x2="575.06" y2="198.2" stroke="#555" stroke-width="0.55" stroke-linecap="round"/>
<line x1="575.5" y1="200.31" x2="579.94" y2="202.87" stroke="#555" stroke-width="0.55" stroke-linecap="round"/>
<line x1="561.92" y1="198.2" x2="561.92" y2="189.8" stroke="#555" stroke-width="0.55" stroke-linecap="round"/>
<line x1="560.48" y1="198.2" x2="560.48" y2="189.8" stroke="#555" stroke-width="0.55" stroke-linecap="round"/>
<line x1="595.84" y1="186.2" x2="602.77" y2="190.2" stroke="#555" stroke-width="0.55" stroke-linecap="round"/>
<line x1="602.77" y1="190.2" x2="602.77" y2="198.2" stroke="#555" stroke-width="0.55" stroke-linecap="round"/>
<line x1="602.77" y1="198.2" x2="595.84" y2="202.2" stroke="#555" stroke-width="0.55" stroke-linecap="round"/>
<line x1="595.84" y1="202.2" x2="588.91" y2="198.2" stroke="#555" stroke-width="0.55" stroke-linecap="round"/>
<line x1="588.91" y1="198.2" x2="588.91" y2="190.2" stroke="#555" stroke-width="0.55" stroke-linecap="round"/>
<line x1="588.91" y1="190.2" x2="595.84" y2="186.2" stroke="#555" stroke-width="0.55" stroke-linecap="round"/>
<line x1="590.96" y1="190.87" x2="595.39" y2="188.31" stroke="#555" stroke-width="0.55" stroke-linecap="round"/>
<line x1="601.17" y1="191.64" x2="601.17" y2="196.76" stroke="#555" stroke-width="0.55" stroke-linecap="round"/>
<line x1="595.39" y1="200.09" x2="590.96" y2="197.53" stroke="#555" stroke-width="0.55" stroke-linecap="round"/>
<line x1="595.84" y1="210.2" x2="602.77" y2="214.2" stroke="#555" stroke-width="0.55" stroke-linecap="round"/>
<line x1="602.77" y1="214.2" x2="602.77" y2="222.2" stroke="#555" stroke-width="0.55" stroke-linecap="round"/>
<line x1="602.77" y1="222.2" x2="595.84" y2="226.2" stroke="#555" stroke-width="0.55" stroke-linecap="round"/>
<line x1="595.84" y1="226.2" x2="588.91" y2="222.2" stroke="#555" stroke-width="0.55" stroke-linecap="round"/>
<line x1="588.91" y1="222.2" x2="588.91" y2="214.2" stroke="#555" stroke-width="0.55" stroke-linecap="round"/>
<line x1="588.91" y1="214.2" x2="595.84" y2="210.2" stroke="#555" stroke-width="0.55" stroke-linecap="round"/>
<line x1="590.96" y1="214.87" x2="595.39" y2="212.31" stroke="#555" stroke-width="0.55" stroke-linecap="round"/>
<line x1="601.17" y1="215.64" x2="601.17" y2="220.76" stroke="#555" stroke-width="0.55" stroke-linecap="round"/>
<line x1="595.39" y1="224.09" x2="590.96" y2="221.53" stroke="#555" stroke-width="0.55" stroke-linecap="round"/>
<line x1="581.98" y1="202.2" x2="588.91" y2="198.2" stroke="#555" stroke-width="0.55" stroke-linecap="round"/>
<line x1="581.98" y1="210.2" x2="588.91" y2="214.2" stroke="#555" stroke-width="0.55" stroke-linecap="round"/>
<line x1="561.2" y1="189.8" x2="556.24" y2="186.84" stroke="#555" stroke-width="0.55" stroke-linecap="round"/>
<line x1="561.2" y1="189.8" x2="566.16" y2="186.84" stroke="#555" stroke-width="0.55" stroke-linecap="round"/>
<circle cx="554.27" cy="202.2" r="2.03" fill="#fff"/>
<text x="554.27" y="203.94" font-size="4.83" fill="#555" text-anchor="middle">O</text>
<circle cx="575.06" cy="214.2" r="2.03" fill="#fff"/>
<text x="575.06" y="215.94" font-size="4.83" fill="#555" text-anchor="middle">O</text>
<text x="552.8" y="187.64" font-size="4.6" fill="#555" text-anchor="middle">NC</text>
<text x="570" y="187.64" font-size="4.6" fill="#555" text-anchor="middle">CN</text>
<line x1="425.36" y1="190" x2="431.68" y2="193.65" stroke="#555" stroke-width="0.55" stroke-linecap="round"/>
<line x1="431.68" y1="193.65" x2="431.68" y2="200.95" stroke="#555" stroke-width="0.55" stroke-linecap="round"/>
<line x1="431.68" y1="200.95" x2="425.36" y2="204.6" stroke="#555" stroke-width="0.55" stroke-linecap="round"/>
<line x1="425.36" y1="204.6" x2="419.03" y2="200.95" stroke="#555" stroke-width="0.55" stroke-linecap="round"/>
<line x1="419.03" y1="200.95" x2="419.03" y2="193.65" stroke="#555" stroke-width="0.55" stroke-linecap="round"/>
<line x1="419.03" y1="193.65" x2="425.36" y2="190" stroke="#555" stroke-width="0.55" stroke-linecap="round"/>
<line x1="420.9" y1="194.26" x2="424.95" y2="191.92" stroke="#555" stroke-width="0.55" stroke-linecap="round"/>
<line x1="430.22" y1="194.96" x2="430.22" y2="199.64" stroke="#555" stroke-width="0.55" stroke-linecap="round"/>
<line x1="424.95" y1="202.68" x2="420.9" y2="200.34" stroke="#555" stroke-width="0.55" stroke-linecap="round"/>
<line x1="438" y1="190" x2="444.32" y2="193.65" stroke="#555" stroke-width="0.55" stroke-linecap="round"/>
<line x1="444.32" y1="193.65" x2="444.32" y2="200.95" stroke="#555" stroke-width="0.55" stroke-linecap="round"/>
<line x1="444.32" y1="200.95" x2="438" y2="204.6" stroke="#555" stroke-width="0.55" stroke-linecap="round"/>
<line x1="438" y1="204.6" x2="431.68" y2="200.95" stroke="#555" stroke-width="0.55" stroke-linecap="round"/>
<line x1="431.68" y1="193.65" x2="438" y2="190" stroke="#555" stroke-width="0.55" stroke-linecap="round"/>
<line x1="437.34" y1="204.6" x2="437.34" y2="210.81" stroke="#555" stroke-width="0.55" stroke-linecap="round"/>
<line x1="438.66" y1="204.6" x2="438.66" y2="210.81" stroke="#555" stroke-width="0.55" stroke-linecap="round"/>
<line x1="444.32" y1="193.65" x2="450.6" y2="186.7" stroke="#555" stroke-width="0.55" stroke-linecap="round"/>
<line x1="444.32" y1="200.95" x2="449.6" y2="206.1" stroke="#555" stroke-width="0.55" stroke-linecap="round"/>
<line x1="445.71" y1="199.9" x2="449.72" y2="203.82" stroke="#555" stroke-width="0.55" stroke-linecap="round"/>
<line x1="449.6" y1="206.1" x2="456.9" y2="203.7" stroke="#555" stroke-width="0.55" stroke-linecap="round"/>
<line x1="450.15" y1="204.02" x2="455.7" y2="202.19" stroke="#555" stroke-width="0.55" stroke-linecap="round"/>
<line x1="456.9" y1="203.7" x2="458.3" y2="199.6" stroke="#555" stroke-width="0.55" stroke-linecap="round"/>
<line x1="450.6" y1="186.7" x2="447.2" y2="182.3" stroke="#555" stroke-width="0.55" stroke-linecap="round"/>
<line x1="450.6" y1="186.7" x2="454.6" y2="182.3" stroke="#555" stroke-width="0.55" stroke-linecap="round"/>
<line x1="441.5" y1="185.9" x2="446.3" y2="185.6" stroke="#555" stroke-width="0.55" stroke-linecap="round"/>
<line x1="446.3" y1="185.6" x2="450.6" y2="188.5" stroke="#555" stroke-width="0.55" stroke-linecap="round"/>
<line x1="450.6" y1="188.5" x2="458.2" y2="199" stroke="#555" stroke-width="0.55" stroke-linecap="round"/>
<line x1="458.2" y1="199" x2="453.5" y2="199.3" stroke="#555" stroke-width="0.55" stroke-linecap="round"/>
<line x1="453.5" y1="199.3" x2="446.5" y2="192.5" stroke="#555" stroke-width="0.55" stroke-linecap="round"/>
<line x1="446.5" y1="192.5" x2="441.5" y2="185.9" stroke="#555" stroke-width="0.55" stroke-linecap="round"/>
<line x1="443.2" y1="187.6" x2="449.5" y2="195.5" stroke="#555" stroke-width="0.55" stroke-linecap="round"/>
<line x1="451.5" y1="191" x2="458" y2="198.6" stroke="#555" stroke-width="1.4" stroke-linecap="round"/>
<line x1="456.9" y1="203.7" x2="462.38" y2="208.65" stroke="#555" stroke-width="0.55" stroke-linecap="round"/>
<line x1="468.7" y1="205" x2="475.02" y2="208.65" stroke="#555" stroke-width="0.55" stroke-linecap="round"/>
<line x1="475.02" y1="208.65" x2="475.02" y2="215.95" stroke="#555" stroke-width="0.55" stroke-linecap="round"/>
<line x1="475.02" y1="215.95" x2="468.7" y2="219.6" stroke="#555" stroke-width="0.55" stroke-linecap="round"/>
<line x1="468.7" y1="219.6" x2="462.38" y2="215.95" stroke="#555" stroke-width="0.55" stroke-linecap="round"/>
<line x1="462.38" y1="215.95" x2="462.38" y2="208.65" stroke="#555" stroke-width="0.55" stroke-linecap="round"/>
<line x1="462.38" y1="208.65" x2="468.7" y2="205" stroke="#555" stroke-width="0.55" stroke-linecap="round"/>
<line x1="464.25" y1="209.26" x2="468.29" y2="206.92" stroke="#555" stroke-width="0.55" stroke-linecap="round"/>
<line x1="473.56" y1="209.96" x2="473.56" y2="214.64" stroke="#555" stroke-width="0.55" stroke-linecap="round"/>
<line x1="468.29" y1="217.68" x2="464.25" y2="215.34" stroke="#555" stroke-width="0.55" stroke-linecap="round"/>
<circle cx="438" cy="212.63" r="1.93" fill="#fff"/>
<text x="438" y="214.29" font-size="4.6" fill="#555" text-anchor="middle">O</text>
<circle cx="438" cy="190" r="1.93" fill="#fff"/>
<text x="438" y="191.66" font-size="4.6" fill="#555" text-anchor="middle">O</text>
<text x="446" y="181.8" font-size="4.2" fill="#777" text-anchor="middle">NC</text>
<text x="456.8" y="181.8" font-size="4.2" fill="#777" text-anchor="middle">CN</text>
<line x1="526.84" y1="293.2" x2="533.77" y2="297.2" stroke="#555" stroke-width="0.55" stroke-linecap="round"/>
<line x1="533.77" y1="297.2" x2="533.77" y2="305.2" stroke="#555" stroke-width="0.55" stroke-linecap="round"/>
<line x1="533.77" y1="305.2" x2="526.84" y2="309.2" stroke="#555" stroke-width="0.55" stroke-linecap="round"/>
<line x1="526.84" y1="309.2" x2="519.92" y2="305.2" stroke="#555" stroke-width="0.55" stroke-linecap="round"/>
<line x1="519.92" y1="305.2" x2="519.92" y2="297.2" stroke="#555" stroke-width="0.55" stroke-linecap="round"/>
<line x1="519.92" y1="297.2" x2="526.84" y2="293.2" stroke="#555" stroke-width="0.55" stroke-linecap="round"/>
<line x1="521.96" y1="297.87" x2="526.4" y2="295.31" stroke="#555" stroke-width="0.55" stroke-linecap="round"/>
<line x1="532.17" y1="298.64" x2="532.17" y2="303.76" stroke="#555" stroke-width="0.55" stroke-linecap="round"/>
<line x1="526.4" y1="307.09" x2="521.96" y2="304.53" stroke="#555" stroke-width="0.55" stroke-linecap="round"/>
<line x1="540.7" y1="293.2" x2="547.63" y2="297.2" stroke="#555" stroke-width="0.55" stroke-linecap="round"/>
<line x1="547.63" y1="297.2" x2="547.63" y2="305.2" stroke="#555" stroke-width="0.55" stroke-linecap="round"/>
<line x1="547.63" y1="305.2" x2="540.7" y2="309.2" stroke="#555" stroke-width="0.55" stroke-linecap="round"/>
<line x1="540.7" y1="309.2" x2="533.77" y2="305.2" stroke="#555" stroke-width="0.55" stroke-linecap="round"/>
<line x1="533.77" y1="297.2" x2="540.7" y2="293.2" stroke="#555" stroke-width="0.55" stroke-linecap="round"/>
<line x1="539.98" y1="309.2" x2="539.98" y2="316" stroke="#555" stroke-width="0.55" stroke-linecap="round"/>
<line x1="541.42" y1="309.2" x2="541.42" y2="316" stroke="#555" stroke-width="0.55" stroke-linecap="round"/>
<line x1="547.63" y1="305.2" x2="556.5" y2="309.2" stroke="#555" stroke-width="0.55" stroke-linecap="round"/>
<line x1="548.49" y1="303.84" x2="555.59" y2="307.04" stroke="#555" stroke-width="0.55" stroke-linecap="round"/>
<line x1="556.5" y1="309.2" x2="563.2" y2="304.4" stroke="#555" stroke-width="1.2" stroke-linecap="round"/>
<line x1="562.86" y1="304.94" x2="569.16" y2="308.84" stroke="#555" stroke-width="0.55" stroke-linecap="round"/>
<line x1="563.54" y1="303.86" x2="569.84" y2="307.76" stroke="#555" stroke-width="0.55" stroke-linecap="round"/>
<line x1="569.5" y1="308.3" x2="569.7" y2="316.4" stroke="#555" stroke-width="0.55" stroke-linecap="round"/>
<line x1="569.7" y1="316.4" x2="576.63" y2="320.4" stroke="#555" stroke-width="0.55" stroke-linecap="round"/>
<line x1="576.63" y1="320.4" x2="576.63" y2="328.4" stroke="#555" stroke-width="0.55" stroke-linecap="round"/>
<line x1="576.63" y1="328.4" x2="569.7" y2="332.4" stroke="#555" stroke-width="0.55" stroke-linecap="round"/>
<line x1="569.7" y1="332.4" x2="562.77" y2="328.4" stroke="#555" stroke-width="0.55" stroke-linecap="round"/>
<line x1="562.77" y1="328.4" x2="562.77" y2="320.4" stroke="#555" stroke-width="0.55" stroke-linecap="round"/>
<line x1="562.77" y1="320.4" x2="569.7" y2="316.4" stroke="#555" stroke-width="0.55" stroke-linecap="round"/>
<line x1="564.82" y1="321.07" x2="569.25" y2="318.51" stroke="#555" stroke-width="0.55" stroke-linecap="round"/>
<line x1="575.03" y1="321.84" x2="575.03" y2="326.96" stroke="#555" stroke-width="0.55" stroke-linecap="round"/>
<line x1="569.25" y1="330.29" x2="564.82" y2="327.73" stroke="#555" stroke-width="0.55" stroke-linecap="round"/>
<line x1="548.5" y1="286.5" x2="553" y2="285" stroke="#555" stroke-width="0.55" stroke-linecap="round"/>
<line x1="553" y1="285" x2="558.5" y2="293" stroke="#555" stroke-width="0.55" stroke-linecap="round"/>
<line x1="558.5" y1="293" x2="559.5" y2="300" stroke="#555" stroke-width="0.55" stroke-linecap="round"/>
<line x1="559.5" y1="300" x2="555" y2="301" stroke="#555" stroke-width="0.55" stroke-linecap="round"/>
<line x1="555" y1="301" x2="549.5" y2="293.5" stroke="#555" stroke-width="0.55" stroke-linecap="round"/>
<line x1="549.5" y1="293.5" x2="548.5" y2="286.5" stroke="#555" stroke-width="0.55" stroke-linecap="round"/>
<line x1="550.5" y1="288.5" x2="556.5" y2="296.5" stroke="#555" stroke-width="0.55" stroke-linecap="round"/>
<line x1="547.63" y1="297.2" x2="550" y2="296" stroke="#555" stroke-width="0.55" stroke-linecap="round"/>
<line x1="559.5" y1="300" x2="563.2" y2="304.4" stroke="#555" stroke-width="0.55" stroke-linecap="round"/>
<line x1="553" y1="285" x2="549" y2="283" stroke="#555" stroke-width="0.55" stroke-linecap="round"/>
<line x1="557" y1="289" x2="561.5" y2="286" stroke="#555" stroke-width="0.55" stroke-linecap="round"/>
<circle cx="540.7" cy="318" r="1.93" fill="#fff"/>
<text x="540.7" y="319.66" font-size="4.6" fill="#555" text-anchor="middle">O</text>
<circle cx="540.7" cy="293.2" r="1.93" fill="#fff"/>
<text x="540.7" y="294.86" font-size="4.6" fill="#555" text-anchor="middle">O</text>
<text x="547.6" y="284.2" font-size="4.2" fill="#666" text-anchor="middle">NC</text>
<text x="563.6" y="286.8" font-size="4.2" fill="#666" text-anchor="middle">CN</text>
</svg>
</body></html>
